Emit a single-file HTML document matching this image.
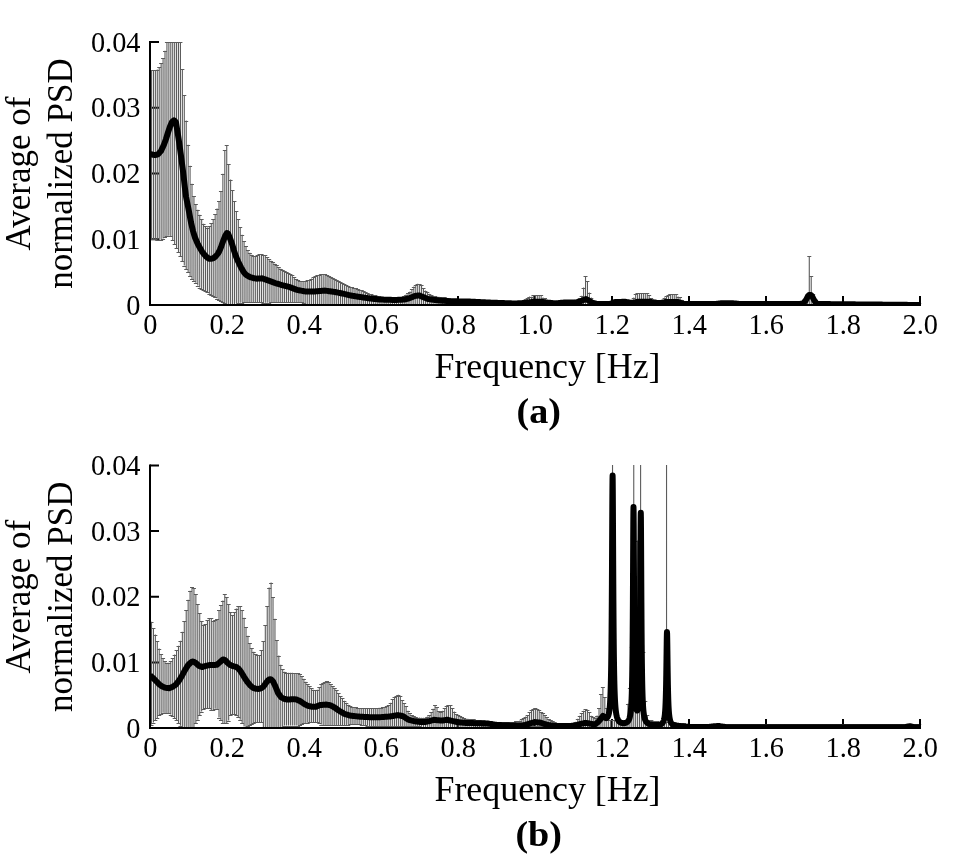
<!DOCTYPE html>
<html><head><meta charset="utf-8"><style>
html,body{margin:0;padding:0;background:#fff;width:969px;height:857px;overflow:hidden}
svg{display:block}
svg{will-change:transform}
.t{font-family:"Liberation Serif",serif;font-size:30.5px;fill:#000}
.ti{font-family:"Liberation Serif",serif;font-size:35px;fill:#000}
.tb{font-family:"Liberation Serif",serif;font-size:35px;font-weight:bold;fill:#000}
</style></head><body>
<svg width="969" height="857" viewBox="0 0 969 857">
<rect width="969" height="857" fill="#fff"/>
<path d="M150.0 239.2h9 M150.0 173.5h9 M150.0 107.8h9 M150.0 42.0h9 M458.0 305.0v-9 M535.0 305.0v-9 M612.0 305.0v-9 M689.0 305.0v-9 M766.0 305.0v-9 M843.0 305.0v-9 M920.0 305.0v-9" stroke="#000" stroke-width="2" fill="none"/>
<path d="M151.499 70.1V239.3M153.428 70.3V239.3M155.357 70.5V239.4M157.286 69.5V239.6M159.215 67.2V240.2M161.144 63.4V239.7M163.073 58.0V238.6M165.002 50.7V237.4M166.931 42.0V236.2M168.86 42.0V235.7M170.789 42.0V236.2M172.718 42.0V240.0M174.647 42.0V244.0M176.576 42.0V248.2M178.505 42.0V252.4M180.434 42.0V256.2M182.363 69.4V260.9M184.292 95.4V265.6M186.221 120.6V269.3M188.15 144.7V272.3M190.079 165.7V276.0M192.008 183.7V278.9M193.937 196.4V281.2M195.866 204.3V282.8M197.795 209.8V285.5M199.724 214.7V287.5M201.653 219.5V288.9M203.582 223.7V290.1M205.511 226.0V291.3M207.44 227.6V292.5M209.369 226.3V293.8M211.298 223.0V295.3M213.227 219.2V296.4M215.156 214.4V297.3M217.085 208.5V298.5M219.014 201.4V300.0M220.943 190.9V301.2M222.872 173.7V302.1M224.801 150.4V303.2M226.73 145.2V304.3M228.659 164.0V304.9M230.588 179.5V304.5M232.517 190.3V304.2M234.446 201.1V303.9M236.375 210.9V303.5M238.304 219.0V303.2M240.233 227.4V302.8M242.162 234.8V302.5M244.091 241.1V302.2M246.02 246.3V302.0M247.949 250.2V302.0M249.878 252.8V302.0M251.807 254.7V302.0M253.736 256.2V302.0M255.665 255.9V302.0M257.594 254.9V302.0M259.523 254.5V302.0M261.452 254.2V302.5M263.381 254.7V303.0M265.31 255.4V302.8M267.239 257.0V302.7M269.168 259.0V302.6M271.097 260.7V302.4M273.026 262.3V302.2M274.955 263.8V302.0M276.884 265.4V302.0M278.813 267.2V302.0M280.742 268.7V302.0M282.671 269.7V302.0M284.6 270.7V302.0M286.529 271.7V302.0M288.458 272.8V302.0M290.387 274.1V302.0M292.316 275.4V302.0M294.245 277.2V302.0M296.174 278.9V302.0M298.103 279.9V302.0M300.032 280.9V302.0M301.961 281.0V302.0M303.89 281.1V302.9M305.819 280.8V304.8M307.748 280.4V305.0M309.677 279.5V305.0M311.606 278.5V305.0M313.535 277.3V305.0M315.464 276.0V305.0M317.393 275.2V305.0M319.322 274.6V305.0M321.251 274.4V305.0M323.18 274.4V305.0M325.109 274.4V305.0M327.038 275.1V305.0M328.967 275.7V305.0M330.896 276.7V305.0M332.825 277.7V305.0M334.754 278.7V305.0M336.683 279.7V305.0M338.612 280.7V305.0M340.541 281.8V305.0M342.47 283.0V305.0M344.399 284.2V305.0M346.328 285.1V305.0M348.257 285.9V305.0M350.186 286.7V305.0M352.115 287.3V305.0M354.044 287.9V305.0M355.973 288.5V305.0M357.902 289.1V305.0M359.831 289.6V305.0M361.76 290.4V305.0M363.689 291.2V305.0M365.618 292.1V305.0M367.547 292.9V305.0M369.476 293.7V305.0M371.405 294.3V305.0M373.334 294.9V305.0M375.263 295.5V305.0M377.192 295.8V305.0M379.121 296.2V305.0M381.05 296.5V305.0M382.979 296.7V305.0M384.908 296.9V305.0M386.837 297.2V305.0M388.766 297.4V305.0M390.695 297.5V305.0M392.624 297.4V305.0M394.553 297.4V305.0M396.482 297.4V305.0M398.411 297.3V305.0M400.34 297.2V305.0M402.269 296.5V305.0M404.198 295.8V305.0M406.127 294.5V305.0M408.056 293.3V305.0M409.985 291.6V305.0M411.914 289.4V305.0M413.843 286.6V305.0M415.772 284.7V305.0M417.701 283.7V305.0M419.63 284.1V305.0M421.559 285.5V305.0M423.488 288.3V305.0M425.417 290.6V305.0M427.346 292.2V305.0M429.275 293.7V305.0M431.204 295.0V305.0M433.133 295.5V305.0M435.062 296.1V305.0M436.991 296.5V305.0M438.92 296.8V305.0M440.849 297.0V305.0M442.778 297.2V305.0M444.707 297.5V305.0M446.636 297.8V305.0M448.565 298.2V305.0M450.494 298.6V305.0M452.423 299.0V305.0M454.352 299.4V305.0M456.281 299.7V305.0M458.21 300.0V305.0M460.139 300.3V305.0M462.068 300.6V305.0M463.997 300.8V305.0M465.926 301.0V305.0M467.855 301.1V305.0M469.784 301.1V305.0M471.713 301.1V305.0M473.642 301.2V305.0M475.571 301.2V305.0M477.5 301.2V305.0M479.429 301.3V305.0M481.358 301.3V305.0M483.287 301.3V305.0M485.216 301.4V305.0M487.145 301.4V305.0M489.074 301.4V305.0M491.003 301.5V305.0M492.932 301.5V305.0M494.861 301.5V305.0M496.79 301.6V305.0M498.719 301.6V305.0M500.648 301.6V305.0M502.577 301.7V305.0M504.506 301.7V305.0M506.435 301.8V305.0M508.364 301.8V305.0M510.293 301.8V305.0M512.222 301.9V305.0M514.151 301.9V305.0M516.08 301.9V305.0M518.009 302.0V305.0M519.938 302.0V305.0M521.867 301.1V305.0M523.796 300.1V305.0M525.725 299.1V305.0M527.654 297.6V305.0M529.583 296.6V305.0M531.512 296.7V305.0M533.441 295.4V305.0M535.37 295.0V305.0M537.299 295.0V305.0M539.228 295.0V305.0M541.157 295.2V305.0M543.086 297.5V305.0M545.015 298.0V305.0M546.944 300.6V305.0M548.873 302.0V305.0M550.802 302.0V305.0M552.731 302.0V305.0M554.66 302.0V305.0M556.589 302.0V305.0M558.518 302.0V305.0M560.447 302.0V305.0M562.376 302.0V305.0M564.305 302.0V305.0M566.234 302.0V305.0M568.163 302.0V305.0M570.092 302.0V305.0M572.021 302.0V305.0M573.95 302.0V305.0M575.879 302.0V305.0M577.808 302.0V305.0M579.737 298.1V305.0M581.666 295.8V305.0M583.595 287.5V305.0M585.524 276.5V305.0M587.453 281.0V305.0M589.382 292.6V305.0M591.311 297.6V305.0M593.24 300.8V305.0M595.169 302.0V305.0M597.098 302.0V305.0M599.027 302.0V305.0M600.956 302.0V305.0M602.885 302.0V305.0M604.814 302.0V305.0M606.743 302.0V305.0M608.672 302.0V305.0M610.601 302.0V305.0M612.53 302.0V305.0M614.459 302.0V305.0M616.388 302.0V305.0M618.317 302.0V305.0M620.246 302.0V305.0M622.175 302.0V305.0M624.104 302.0V305.0M626.033 302.0V305.0M627.962 302.0V305.0M629.891 302.0V305.0M631.82 302.0V305.0M633.749 297.6V305.0M635.678 293.8V305.0M637.607 293.2V305.0M639.536 293.2V305.0M641.465 293.2V305.0M643.394 293.2V305.0M645.323 293.2V305.0M647.252 293.2V305.0M649.181 295.4V305.0M651.11 298.1V305.0M653.039 300.6V305.0M654.968 302.0V305.0M656.897 302.0V305.0M658.826 302.0V305.0M660.755 302.0V305.0M662.684 300.6V305.0M664.613 297.5V305.0M666.542 296.1V305.0M668.471 294.6V305.0M670.4 294.2V305.0M672.329 294.2V305.0M674.258 294.2V305.0M676.187 294.4V305.0M678.116 296.5V305.0M680.045 297.2V305.0M681.974 299.7V305.0M683.903 302.0V305.0M685.832 302.0V305.0M687.761 302.0V305.0M689.69 302.0V305.0M691.619 302.0V305.0M693.548 302.0V305.0M695.477 302.0V305.0M697.406 302.0V305.0M699.335 302.0V305.0M701.264 302.0V305.0M703.193 302.0V305.0M705.122 302.0V305.0M707.051 302.0V305.0M708.98 302.0V305.0M710.909 302.0V305.0M712.838 302.0V305.0M714.767 302.0V305.0M716.696 302.0V305.0M718.625 302.0V305.0M720.554 302.0V305.0M722.483 302.0V305.0M724.412 302.0V305.0M726.341 302.0V305.0M728.27 302.0V305.0M730.199 302.0V305.0M732.128 302.0V305.0M734.057 302.0V305.0M735.986 302.0V305.0M737.915 302.0V305.0M739.844 302.0V305.0M741.773 302.0V305.0M743.702 302.0V305.0M745.631 302.0V305.0M747.56 302.0V305.0M749.489 302.0V305.0M751.418 302.0V305.0M753.347 302.0V305.0M755.276 302.0V305.0M757.205 302.0V305.0M759.134 302.0V305.0M761.063 302.0V305.0M762.992 302.0V305.0M764.921 302.0V305.0M766.85 302.0V305.0M768.779 302.0V305.0M770.708 302.0V305.0M772.637 302.0V305.0M774.566 302.0V305.0M776.495 302.0V305.0M778.424 302.0V305.0M780.353 302.0V305.0M782.282 302.0V305.0M784.211 302.0V305.0M786.14 302.0V305.0M788.069 302.0V305.0M789.998 302.0V305.0M791.927 302.0V305.0M793.856 302.0V305.0M795.785 302.0V305.0M797.714 302.0V305.0M799.643 302.0V305.0M801.572 302.0V305.0M803.501 302.0V305.0M805.43 302.0V305.0M807.359 296.6V305.0M809.288 256.2V305.0M811.217 275.9V305.0M813.146 293.7V305.0M815.075 302.0V305.0M817.004 302.0V305.0M818.933 302.0V305.0M820.862 302.1V305.0M822.791 302.1V305.0M824.72 302.1V305.0M826.649 302.1V305.0M828.578 302.1V305.0M830.507 302.1V305.0M832.436 302.2V305.0M834.365 302.2V305.0M836.294 302.2V305.0M838.223 302.2V305.0M840.152 302.2V305.0M842.081 302.3V305.0M844.01 302.3V305.0M845.939 302.3V305.0M847.868 302.3V305.0M849.797 302.3V305.0M851.726 302.3V305.0M853.655 302.4V305.0M855.584 302.4V305.0M857.513 302.4V305.0M859.442 302.4V305.0M861.371 302.4V305.0M863.3 302.5V305.0M865.229 302.5V305.0M867.158 302.5V305.0M869.087 302.5V305.0M871.016 302.5V305.0M872.945 302.5V305.0M874.874 302.6V305.0M876.803 302.6V305.0M878.732 302.6V305.0M880.661 302.6V305.0M882.59 302.6V305.0M884.519 302.7V305.0M886.448 302.7V305.0M888.377 302.7V305.0M890.306 302.7V305.0M892.235 302.7V305.0M894.164 302.7V305.0M896.093 302.8V305.0M898.022 302.8V305.0M899.951 302.8V305.0M901.88 302.8V305.0M903.809 302.8V305.0M905.738 302.9V305.0M907.667 302.9V305.0M909.596 302.9V305.0M911.525 302.9V305.0M913.454 302.9V305.0M915.383 302.9V305.0M917.312 303.0V305.0M919.241 303.0V305.0" stroke="#5c5c5c" stroke-width="1.1" fill="none"/>
<path d="M149.50 70.5h4.0M149.50 239.5h4.0M151.43 70.5h4.0M151.43 239.5h4.0M153.36 70.5h4.0M153.36 239.5h4.0M155.29 70.5h4.0M155.29 240.5h4.0M157.22 67.5h4.0M157.22 240.5h4.0M159.14 63.5h4.0M159.14 240.5h4.0M161.07 58.5h4.0M161.07 239.5h4.0M163.00 51.5h4.0M163.00 237.5h4.0M164.93 42.5h4.0M164.93 236.5h4.0M166.86 42.5h4.0M166.86 236.5h4.0M168.79 42.5h4.0M168.79 236.5h4.0M170.72 42.5h4.0M170.72 240.5h4.0M172.65 42.5h4.0M172.65 244.5h4.0M174.58 42.5h4.0M174.58 248.5h4.0M176.50 42.5h4.0M176.50 252.5h4.0M178.43 42.5h4.0M178.43 256.5h4.0M180.36 69.5h4.0M180.36 261.5h4.0M182.29 95.5h4.0M182.29 266.5h4.0M184.22 121.5h4.0M184.22 269.5h4.0M186.15 145.5h4.0M186.15 272.5h4.0M188.08 166.5h4.0M188.08 276.5h4.0M190.01 184.5h4.0M190.01 279.5h4.0M191.94 196.5h4.0M191.94 281.5h4.0M193.87 204.5h4.0M193.87 283.5h4.0M195.79 210.5h4.0M195.79 286.5h4.0M197.72 215.5h4.0M197.72 288.5h4.0M199.65 219.5h4.0M199.65 289.5h4.0M201.58 224.5h4.0M201.58 290.5h4.0M203.51 226.5h4.0M203.51 291.5h4.0M205.44 228.5h4.0M205.44 292.5h4.0M207.37 226.5h4.0M207.37 294.5h4.0M209.30 223.5h4.0M209.30 295.5h4.0M211.23 219.5h4.0M211.23 296.5h4.0M213.16 214.5h4.0M213.16 297.5h4.0M215.09 209.5h4.0M215.09 299.5h4.0M217.01 201.5h4.0M217.01 300.5h4.0M218.94 191.5h4.0M218.94 301.5h4.0M220.87 174.5h4.0M220.87 302.5h4.0M222.80 150.5h4.0M222.80 303.5h4.0M224.73 145.5h4.0M226.66 164.5h4.0M228.59 180.5h4.0M230.52 190.5h4.0M232.45 201.5h4.0M232.45 304.5h4.0M234.38 211.5h4.0M234.38 304.5h4.0M236.30 219.5h4.0M236.30 303.5h4.0M238.23 227.5h4.0M238.23 303.5h4.0M240.16 235.5h4.0M240.16 303.5h4.0M242.09 241.5h4.0M242.09 302.5h4.0M244.02 246.5h4.0M244.02 302.5h4.0M245.95 250.5h4.0M245.95 302.5h4.0M247.88 253.5h4.0M247.88 302.5h4.0M249.81 255.5h4.0M249.81 302.5h4.0M251.74 256.5h4.0M251.74 302.5h4.0M253.66 256.5h4.0M253.66 302.5h4.0M255.59 255.5h4.0M255.59 302.5h4.0M257.52 254.5h4.0M257.52 302.5h4.0M259.45 254.5h4.0M259.45 302.5h4.0M261.38 255.5h4.0M261.38 303.5h4.0M263.31 255.5h4.0M263.31 303.5h4.0M265.24 257.5h4.0M265.24 303.5h4.0M267.17 259.5h4.0M267.17 303.5h4.0M269.10 261.5h4.0M269.10 302.5h4.0M271.03 262.5h4.0M271.03 302.5h4.0M272.95 264.5h4.0M272.95 302.5h4.0M274.88 265.5h4.0M274.88 302.5h4.0M276.81 267.5h4.0M276.81 302.5h4.0M278.74 269.5h4.0M278.74 302.5h4.0M280.67 270.5h4.0M280.67 302.5h4.0M282.60 271.5h4.0M282.60 302.5h4.0M284.53 272.5h4.0M284.53 302.5h4.0M286.46 273.5h4.0M286.46 302.5h4.0M288.39 274.5h4.0M288.39 302.5h4.0M290.32 275.5h4.0M290.32 302.5h4.0M292.25 277.5h4.0M292.25 302.5h4.0M294.17 279.5h4.0M294.17 302.5h4.0M296.10 280.5h4.0M296.10 302.5h4.0M298.03 281.5h4.0M298.03 302.5h4.0M299.96 281.5h4.0M299.96 302.5h4.0M301.89 281.5h4.0M301.89 303.5h4.0M303.82 281.5h4.0M305.75 280.5h4.0M307.68 280.5h4.0M309.61 279.5h4.0M311.54 277.5h4.0M313.46 276.5h4.0M315.39 275.5h4.0M317.32 275.5h4.0M319.25 274.5h4.0M321.18 274.5h4.0M323.11 274.5h4.0M325.04 275.5h4.0M326.97 276.5h4.0M328.90 277.5h4.0M330.82 278.5h4.0M332.75 279.5h4.0M334.68 280.5h4.0M336.61 281.5h4.0M338.54 282.5h4.0M340.47 283.5h4.0M342.40 284.5h4.0M344.33 285.5h4.0M346.26 286.5h4.0M348.19 287.5h4.0M350.12 287.5h4.0M352.04 288.5h4.0M353.97 288.5h4.0M355.90 289.5h4.0M357.83 290.5h4.0M359.76 290.5h4.0M361.69 291.5h4.0M363.62 292.5h4.0M365.55 293.5h4.0M367.48 294.5h4.0M369.40 294.5h4.0M371.33 295.5h4.0M373.26 295.5h4.0M375.19 296.5h4.0M377.12 296.5h4.0M379.05 297.5h4.0M380.98 297.5h4.0M382.91 297.5h4.0M384.84 297.5h4.0M386.77 297.5h4.0M388.69 297.5h4.0M390.62 297.5h4.0M392.55 297.5h4.0M394.48 297.5h4.0M396.41 297.5h4.0M398.34 297.5h4.0M400.27 297.5h4.0M402.20 296.5h4.0M404.13 295.5h4.0M406.06 293.5h4.0M407.99 292.5h4.0M409.91 289.5h4.0M411.84 287.5h4.0M413.77 285.5h4.0M415.70 284.5h4.0M417.63 284.5h4.0M419.56 285.5h4.0M421.49 288.5h4.0M423.42 291.5h4.0M425.35 292.5h4.0M427.27 294.5h4.0M429.20 295.5h4.0M431.13 296.5h4.0M433.06 296.5h4.0M434.99 297.5h4.0M436.92 297.5h4.0M438.85 297.5h4.0M440.78 297.5h4.0M442.71 297.5h4.0M444.64 298.5h4.0M446.56 298.5h4.0M448.49 299.5h4.0M450.42 299.5h4.0M452.35 299.5h4.0M454.28 300.5h4.0M456.21 300.5h4.0M458.14 300.5h4.0M460.07 301.5h4.0M462.00 301.5h4.0M463.93 301.5h4.0M465.86 301.5h4.0M467.78 301.5h4.0M469.71 301.5h4.0M471.64 301.5h4.0M473.57 301.5h4.0M475.50 301.5h4.0M477.43 301.5h4.0M479.36 301.5h4.0M481.29 301.5h4.0M483.22 301.5h4.0M485.14 301.5h4.0M487.07 301.5h4.0M489.00 301.5h4.0M490.93 302.5h4.0M492.86 302.5h4.0M494.79 302.5h4.0M496.72 302.5h4.0M498.65 302.5h4.0M500.58 302.5h4.0M502.51 302.5h4.0M504.44 302.5h4.0M506.36 302.5h4.0M508.29 302.5h4.0M510.22 302.5h4.0M512.15 302.5h4.0M514.08 302.5h4.0M516.01 302.5h4.0M517.94 302.5h4.0M519.87 301.5h4.0M521.80 300.5h4.0M523.73 299.5h4.0M525.65 298.5h4.0M527.58 297.5h4.0M529.51 297.5h4.0M531.44 295.5h4.0M533.37 295.5h4.0M535.30 295.5h4.0M537.23 295.5h4.0M539.16 295.5h4.0M541.09 298.5h4.0M543.01 298.5h4.0M544.94 301.5h4.0M546.87 302.5h4.0M548.80 302.5h4.0M550.73 302.5h4.0M552.66 302.5h4.0M554.59 302.5h4.0M556.52 302.5h4.0M558.45 302.5h4.0M560.38 302.5h4.0M562.30 302.5h4.0M564.23 302.5h4.0M566.16 302.5h4.0M568.09 302.5h4.0M570.02 302.5h4.0M571.95 302.5h4.0M573.88 302.5h4.0M575.81 302.5h4.0M577.74 298.5h4.0M579.67 296.5h4.0M581.60 288.5h4.0M583.52 276.5h4.0M585.45 281.5h4.0M587.38 293.5h4.0M589.31 298.5h4.0M591.24 301.5h4.0M593.17 302.5h4.0M595.10 302.5h4.0M597.03 302.5h4.0M598.96 302.5h4.0M600.88 302.5h4.0M602.81 302.5h4.0M604.74 302.5h4.0M606.67 302.5h4.0M608.60 302.5h4.0M610.53 302.5h4.0M612.46 302.5h4.0M614.39 302.5h4.0M616.32 302.5h4.0M618.25 302.5h4.0M620.17 302.5h4.0M622.10 302.5h4.0M624.03 302.5h4.0M625.96 302.5h4.0M627.89 302.5h4.0M629.82 302.5h4.0M631.75 298.5h4.0M633.68 294.5h4.0M635.61 293.5h4.0M637.54 293.5h4.0M639.47 293.5h4.0M641.39 293.5h4.0M643.32 293.5h4.0M645.25 293.5h4.0M647.18 295.5h4.0M649.11 298.5h4.0M651.04 301.5h4.0M652.97 302.5h4.0M654.90 302.5h4.0M656.83 302.5h4.0M658.75 302.5h4.0M660.68 301.5h4.0M662.61 298.5h4.0M664.54 296.5h4.0M666.47 295.5h4.0M668.40 294.5h4.0M670.33 294.5h4.0M672.26 294.5h4.0M674.19 294.5h4.0M676.12 297.5h4.0M678.04 297.5h4.0M679.97 300.5h4.0M681.90 302.5h4.0M683.83 302.5h4.0M685.76 302.5h4.0M687.69 302.5h4.0M689.62 302.5h4.0M691.55 302.5h4.0M693.48 302.5h4.0M695.41 302.5h4.0M697.34 302.5h4.0M699.26 302.5h4.0M701.19 302.5h4.0M703.12 302.5h4.0M705.05 302.5h4.0M706.98 302.5h4.0M708.91 302.5h4.0M710.84 302.5h4.0M712.77 302.5h4.0M714.70 302.5h4.0M716.62 302.5h4.0M718.55 302.5h4.0M720.48 302.5h4.0M722.41 302.5h4.0M724.34 302.5h4.0M726.27 302.5h4.0M728.20 302.5h4.0M730.13 302.5h4.0M732.06 302.5h4.0M733.99 302.5h4.0M735.91 302.5h4.0M737.84 302.5h4.0M739.77 302.5h4.0M741.70 302.5h4.0M743.63 302.5h4.0M745.56 302.5h4.0M747.49 302.5h4.0M749.42 302.5h4.0M751.35 302.5h4.0M753.28 302.5h4.0M755.21 302.5h4.0M757.13 302.5h4.0M759.06 302.5h4.0M760.99 302.5h4.0M762.92 302.5h4.0M764.85 302.5h4.0M766.78 302.5h4.0M768.71 302.5h4.0M770.64 302.5h4.0M772.57 302.5h4.0M774.50 302.5h4.0M776.42 302.5h4.0M778.35 302.5h4.0M780.28 302.5h4.0M782.21 302.5h4.0M784.14 302.5h4.0M786.07 302.5h4.0M788.00 302.5h4.0M789.93 302.5h4.0M791.86 302.5h4.0M793.78 302.5h4.0M795.71 302.5h4.0M797.64 302.5h4.0M799.57 302.5h4.0M801.50 302.5h4.0M803.43 302.5h4.0M805.36 297.5h4.0M807.29 256.5h4.0M809.22 276.5h4.0M811.15 294.5h4.0M813.08 302.5h4.0M815.00 302.5h4.0M816.93 302.5h4.0M818.86 302.5h4.0M820.79 302.5h4.0M822.72 302.5h4.0M824.65 302.5h4.0M826.58 302.5h4.0M828.51 302.5h4.0M830.44 302.5h4.0M832.37 302.5h4.0M834.29 302.5h4.0M836.22 302.5h4.0M838.15 302.5h4.0M840.08 302.5h4.0M842.01 302.5h4.0M843.94 302.5h4.0M845.87 302.5h4.0M847.80 302.5h4.0M849.73 302.5h4.0M851.65 302.5h4.0M853.58 302.5h4.0M855.51 302.5h4.0M857.44 302.5h4.0M859.37 302.5h4.0M861.30 302.5h4.0M863.23 302.5h4.0M865.16 302.5h4.0M867.09 303.5h4.0M869.02 303.5h4.0M870.95 303.5h4.0M872.87 303.5h4.0M874.80 303.5h4.0M876.73 303.5h4.0M878.66 303.5h4.0M880.59 303.5h4.0M882.52 303.5h4.0M884.45 303.5h4.0M886.38 303.5h4.0M888.31 303.5h4.0M890.24 303.5h4.0M892.16 303.5h4.0M894.09 303.5h4.0M896.02 303.5h4.0M897.95 303.5h4.0M899.88 303.5h4.0M901.81 303.5h4.0M903.74 303.5h4.0M905.67 303.5h4.0M907.60 303.5h4.0M909.52 303.5h4.0M911.45 303.5h4.0M913.38 303.5h4.0M915.31 303.5h4.0M917.24 303.5h4.0" stroke="#5c5c5c" stroke-width="1" fill="none"/>
<clipPath id="ca"><rect x="150.0" y="32.0" width="771.0" height="274.0"/></clipPath>
<path d="M150.00 154.10 L151.00 154.30 L152.00 154.50 L153.00 154.70 L154.00 154.90 L155.00 155.10 L156.00 154.83 L157.00 154.57 L158.00 154.30 L159.00 153.20 L160.00 152.10 L161.00 151.00 L162.00 148.83 L163.00 146.67 L164.00 144.50 L165.00 141.75 L166.00 139.00 L167.00 135.75 L168.00 132.50 L169.00 129.50 L170.00 126.50 L171.00 124.25 L172.00 122.00 L173.00 121.13 L174.00 120.26 L175.00 121.07 L176.00 122.60 L177.00 128.67 L178.00 134.97 L179.00 141.53 L180.00 148.53 L181.00 155.97 L182.00 163.52 L183.00 171.18 L184.00 179.55 L185.00 188.64 L186.00 196.50 L187.00 201.50 L188.00 206.50 L189.00 211.69 L190.00 217.08 L191.00 222.46 L192.00 226.79 L193.00 231.00 L194.00 234.33 L195.00 237.48 L196.00 239.89 L197.00 242.30 L198.00 244.41 L199.00 246.23 L200.00 248.02 L201.00 249.76 L202.00 251.50 L203.00 252.80 L204.00 254.11 L205.00 255.30 L206.00 256.43 L207.00 257.34 L208.00 258.02 L209.00 258.70 L210.00 258.74 L211.00 258.78 L212.00 258.62 L213.00 258.25 L214.00 257.74 L215.00 256.87 L216.00 256.00 L217.00 254.75 L218.00 253.50 L219.00 251.70 L220.00 249.52 L221.00 247.14 L222.00 244.27 L223.00 241.40 L224.00 238.83 L225.00 236.27 L226.00 234.48 L227.00 233.03 L228.00 233.48 L229.00 235.82 L230.00 238.38 L231.00 241.14 L232.00 243.90 L233.00 247.12 L234.00 250.65 L235.00 253.61 L236.00 256.50 L237.00 258.88 L238.00 261.26 L239.00 263.30 L240.00 265.30 L241.00 267.30 L242.00 269.17 L243.00 270.83 L244.00 272.50 L245.00 273.65 L246.00 274.80 L247.00 275.40 L248.00 276.00 L249.00 276.60 L250.00 277.06 L251.00 277.37 L252.00 277.69 L253.00 278.00 L254.00 278.20 L255.00 278.40 L256.00 278.60 L257.00 278.66 L258.00 278.59 L259.00 278.52 L260.00 278.45 L261.00 278.37 L262.00 278.30 L263.00 278.65 L264.00 279.00 L265.00 279.35 L266.00 279.70 L267.00 280.05 L268.00 280.40 L269.00 280.77 L270.00 281.14 L271.00 281.51 L272.00 281.89 L273.00 282.26 L274.00 282.63 L275.00 283.00 L276.00 283.30 L277.00 283.60 L278.00 283.90 L279.00 284.20 L280.00 284.50 L281.00 284.80 L282.00 285.10 L283.00 285.36 L284.00 285.62 L285.00 285.89 L286.00 286.15 L287.00 286.41 L288.00 286.68 L289.00 286.94 L290.00 287.20 L291.00 287.59 L292.00 287.97 L293.00 288.36 L294.00 288.74 L295.00 289.13 L296.00 289.51 L297.00 289.90 L298.00 290.09 L299.00 290.27 L300.00 290.46 L301.00 290.65 L302.00 290.84 L303.00 291.02 L304.00 291.21 L305.00 291.40 L306.00 291.40 L307.00 291.40 L308.00 291.40 L309.00 291.40 L310.00 291.40 L311.00 291.40 L312.00 291.40 L313.00 291.40 L314.00 291.40 L315.00 291.40 L316.00 291.32 L317.00 291.24 L318.00 291.16 L319.00 291.08 L320.00 291.00 L321.00 290.92 L322.00 290.84 L323.00 290.76 L324.00 290.68 L325.00 290.60 L326.00 290.74 L327.00 290.88 L328.00 291.02 L329.00 291.16 L330.00 291.30 L331.00 291.44 L332.00 291.58 L333.00 291.72 L334.00 291.86 L335.00 292.00 L336.00 292.21 L337.00 292.42 L338.00 292.63 L339.00 292.84 L340.00 293.05 L341.00 293.26 L342.00 293.47 L343.00 293.68 L344.00 293.89 L345.00 294.10 L346.00 294.36 L347.00 294.62 L348.00 294.88 L349.00 295.14 L350.00 295.40 L351.00 295.56 L352.00 295.72 L353.00 295.88 L354.00 296.04 L355.00 296.20 L356.00 296.36 L357.00 296.52 L358.00 296.68 L359.00 296.84 L360.00 297.00 L361.00 297.15 L362.00 297.30 L363.00 297.45 L364.00 297.60 L365.00 297.75 L366.00 297.90 L367.00 298.05 L368.00 298.20 L369.00 298.35 L370.00 298.50 L371.00 298.60 L372.00 298.70 L373.00 298.80 L374.00 298.90 L375.00 299.00 L376.00 299.10 L377.00 299.20 L378.00 299.30 L379.00 299.40 L380.00 299.50 L381.00 299.53 L382.00 299.57 L383.00 299.60 L384.00 299.63 L385.00 299.67 L386.00 299.70 L387.00 299.73 L388.00 299.77 L389.00 299.80 L390.00 299.83 L391.00 299.87 L392.00 299.90 L393.00 299.93 L394.00 299.97 L395.00 300.00 L396.00 299.95 L397.00 299.90 L398.00 299.85 L399.00 299.80 L400.00 299.75 L401.00 299.70 L402.00 299.65 L403.00 299.60 L404.00 299.55 L405.00 299.50 L406.00 299.20 L407.00 298.90 L408.00 298.60 L409.00 298.30 L410.00 298.00 L411.00 297.58 L412.00 297.16 L413.00 296.74 L414.00 296.32 L415.00 295.90 L416.00 295.77 L417.00 295.65 L418.00 295.52 L419.00 295.40 L420.00 295.80 L421.00 296.20 L422.00 296.60 L423.00 297.00 L424.00 297.40 L425.00 297.80 L426.00 298.20 L427.00 298.60 L428.00 299.00 L429.00 299.14 L430.00 299.29 L431.00 299.43 L432.00 299.57 L433.00 299.71 L434.00 299.86 L435.00 300.00 L436.00 300.10 L437.00 300.20 L438.00 300.30 L439.00 300.40 L440.00 300.50 L441.00 300.57 L442.00 300.64 L443.00 300.71 L444.00 300.78 L445.00 300.85 L446.00 300.92 L447.00 300.99 L448.00 301.06 L449.00 301.13 L450.00 301.20 L451.00 301.22 L452.00 301.24 L453.00 301.26 L454.00 301.28 L455.00 301.30 L456.00 301.32 L457.00 301.34 L458.00 301.36 L459.00 301.38 L460.00 301.40 L461.00 301.42 L462.00 301.44 L463.00 301.46 L464.00 301.48 L465.00 301.50 L466.00 301.52 L467.00 301.54 L468.00 301.56 L469.00 301.58 L470.00 301.60 L471.00 301.65 L472.00 301.70 L473.00 301.75 L474.00 301.80 L475.00 301.85 L476.00 301.90 L477.00 301.95 L478.00 302.00 L479.00 302.05 L480.00 302.10 L481.00 302.15 L482.00 302.20 L483.00 302.25 L484.00 302.30 L485.00 302.35 L486.00 302.40 L487.00 302.45 L488.00 302.50 L489.00 302.55 L490.00 302.60 L491.00 302.64 L492.00 302.67 L493.00 302.71 L494.00 302.74 L495.00 302.78 L496.00 302.82 L497.00 302.85 L498.00 302.89 L499.00 302.92 L500.00 302.96 L501.00 303.00 L502.00 303.03 L503.00 303.07 L504.00 303.10 L505.00 303.14 L506.00 303.18 L507.00 303.21 L508.00 303.25 L509.00 303.28 L510.00 303.32 L511.00 303.36 L512.00 303.39 L513.00 303.43 L514.00 303.46 L515.00 303.50 L516.00 303.45 L517.00 303.40 L518.00 303.35 L519.00 303.30 L520.00 303.25 L521.00 303.20 L522.00 303.15 L523.00 303.10 L524.00 303.05 L525.00 303.00 L526.00 302.85 L527.00 302.70 L528.00 302.55 L529.00 302.40 L530.00 302.25 L531.00 302.10 L532.00 301.95 L533.00 301.80 L534.00 301.79 L535.00 301.77 L536.00 301.76 L537.00 301.74 L538.00 301.73 L539.00 301.71 L540.00 301.70 L541.00 301.81 L542.00 301.93 L543.00 302.04 L544.00 302.16 L545.00 302.27 L546.00 302.39 L547.00 302.50 L548.00 302.61 L549.00 302.73 L550.00 302.84 L551.00 302.95 L552.00 303.06 L553.00 303.17 L554.00 303.29 L555.00 303.40 L556.00 303.31 L557.00 303.22 L558.00 303.13 L559.00 303.04 L560.00 302.95 L561.00 302.86 L562.00 302.77 L563.00 302.68 L564.00 302.59 L565.00 302.50 L566.00 302.51 L567.00 302.52 L568.00 302.53 L569.00 302.54 L570.00 302.55 L571.00 302.56 L572.00 302.57 L573.00 302.58 L574.00 302.59 L575.00 302.60 L576.00 302.38 L577.00 302.16 L578.00 301.94 L579.00 301.72 L580.00 301.50 L581.00 301.08 L582.00 300.67 L583.00 300.25 L584.00 299.83 L585.00 299.42 L586.00 299.00 L587.00 299.58 L588.00 300.17 L589.00 300.75 L590.00 301.33 L591.00 301.92 L592.00 302.50 L593.00 302.80 L594.00 303.10 L595.00 303.40 L596.00 303.70 L597.00 304.00 L598.00 304.00 L599.00 304.00 L600.00 304.00 L601.00 304.00 L602.00 304.00 L603.00 304.00 L604.00 304.00 L605.00 304.00 L606.00 304.00 L607.00 304.00 L608.00 304.00 L609.00 304.00 L610.00 304.00 L611.00 303.60 L612.00 303.20 L613.00 302.80 L614.00 302.40 L615.00 302.00 L616.00 301.98 L617.00 301.96 L618.00 301.94 L619.00 301.92 L620.00 301.90 L621.00 301.88 L622.00 301.86 L623.00 301.84 L624.00 301.82 L625.00 301.80 L626.00 301.97 L627.00 302.14 L628.00 302.31 L629.00 302.49 L630.00 302.66 L631.00 302.83 L632.00 303.00 L633.00 302.80 L634.00 302.60 L635.00 302.40 L636.00 302.20 L637.00 302.00 L638.00 301.80 L639.00 301.80 L640.00 301.80 L641.00 301.80 L642.00 301.80 L643.00 301.80 L644.00 301.80 L645.00 301.80 L646.00 301.80 L647.00 301.80 L648.00 301.80 L649.00 301.80 L650.00 301.80 L651.00 301.96 L652.00 302.11 L653.00 302.27 L654.00 302.42 L655.00 302.58 L656.00 302.73 L657.00 302.89 L658.00 303.04 L659.00 303.20 L660.00 303.03 L661.00 302.86 L662.00 302.69 L663.00 302.51 L664.00 302.34 L665.00 302.17 L666.00 302.00 L667.00 302.00 L668.00 302.00 L669.00 302.00 L670.00 302.00 L671.00 302.00 L672.00 302.00 L673.00 302.00 L674.00 302.00 L675.00 302.00 L676.00 302.00 L677.00 302.00 L678.00 302.00 L679.00 302.33 L680.00 302.67 L681.00 303.00 L682.00 303.33 L683.00 303.67 L684.00 304.00 L685.00 304.00 L686.00 304.00 L687.00 304.00 L688.00 304.00 L689.00 304.00 L690.00 304.00 L691.00 304.00 L692.00 304.00 L693.00 304.00 L694.00 304.00 L695.00 304.00 L696.00 304.00 L697.00 304.00 L698.00 304.00 L699.00 304.00 L700.00 304.00 L701.00 304.00 L702.00 304.00 L703.00 304.00 L704.00 304.00 L705.00 304.00 L706.00 304.00 L707.00 304.00 L708.00 304.00 L709.00 304.00 L710.00 304.00 L711.00 304.00 L712.00 304.00 L713.00 304.00 L714.00 304.00 L715.00 304.00 L716.00 303.89 L717.00 303.77 L718.00 303.66 L719.00 303.54 L720.00 303.43 L721.00 303.31 L722.00 303.20 L723.00 303.20 L724.00 303.20 L725.00 303.20 L726.00 303.20 L727.00 303.20 L728.00 303.20 L729.00 303.20 L730.00 303.20 L731.00 303.20 L732.00 303.20 L733.00 303.30 L734.00 303.40 L735.00 303.50 L736.00 303.60 L737.00 303.70 L738.00 303.80 L739.00 303.90 L740.00 304.00 L741.00 304.00 L742.00 304.00 L743.00 304.00 L744.00 304.00 L745.00 304.00 L746.00 304.00 L747.00 304.00 L748.00 304.00 L749.00 304.00 L750.00 304.00 L751.00 304.00 L752.00 304.00 L753.00 304.00 L754.00 304.00 L755.00 304.00 L756.00 304.00 L757.00 304.00 L758.00 304.00 L759.00 304.00 L760.00 304.00 L761.00 304.00 L762.00 304.00 L763.00 304.00 L764.00 304.00 L765.00 304.00 L766.00 304.00 L767.00 304.00 L768.00 304.00 L769.00 304.00 L770.00 304.00 L771.00 304.00 L772.00 304.00 L773.00 304.00 L774.00 304.00 L775.00 304.00 L776.00 304.00 L777.00 304.00 L778.00 304.00 L779.00 304.00 L780.00 304.00 L781.00 304.00 L782.00 304.00 L783.00 304.00 L784.00 304.00 L785.00 304.00 L786.00 304.00 L787.00 304.00 L788.00 304.00 L789.00 304.00 L790.00 304.00 L791.00 304.00 L792.00 304.00 L793.00 304.00 L794.00 304.00 L795.00 304.00 L796.00 304.00 L797.00 304.00 L798.00 304.00 L799.00 304.00 L800.00 304.00 L801.00 303.83 L802.00 303.67 L803.00 303.50 L804.00 302.33 L805.00 301.17 L806.00 300.00 L807.00 298.00 L808.00 296.00 L809.00 295.00 L810.00 295.00 L811.00 295.00 L812.00 296.00 L813.00 298.00 L814.00 300.00 L815.00 301.33 L816.00 302.67 L817.00 304.00 L818.00 304.01 L819.00 304.02 L820.00 304.03 L821.00 304.04 L822.00 304.05 L823.00 304.06 L824.00 304.07 L825.00 304.08 L826.00 304.09 L827.00 304.10 L828.00 304.11 L829.00 304.12 L830.00 304.12 L831.00 304.13 L832.00 304.14 L833.00 304.15 L834.00 304.16 L835.00 304.17 L836.00 304.18 L837.00 304.19 L838.00 304.20 L839.00 304.21 L840.00 304.22 L841.00 304.23 L842.00 304.24 L843.00 304.25 L844.00 304.26 L845.00 304.27 L846.00 304.28 L847.00 304.29 L848.00 304.30 L849.00 304.31 L850.00 304.32 L851.00 304.33 L852.00 304.34 L853.00 304.35 L854.00 304.36 L855.00 304.37 L856.00 304.38 L857.00 304.38 L858.00 304.39 L859.00 304.40 L860.00 304.41 L861.00 304.42 L862.00 304.43 L863.00 304.44 L864.00 304.45 L865.00 304.46 L866.00 304.47 L867.00 304.48 L868.00 304.49 L869.00 304.50 L870.00 304.51 L871.00 304.52 L872.00 304.53 L873.00 304.54 L874.00 304.55 L875.00 304.56 L876.00 304.57 L877.00 304.58 L878.00 304.59 L879.00 304.60 L880.00 304.61 L881.00 304.62 L882.00 304.62 L883.00 304.63 L884.00 304.64 L885.00 304.65 L886.00 304.66 L887.00 304.67 L888.00 304.68 L889.00 304.69 L890.00 304.70 L891.00 304.71 L892.00 304.72 L893.00 304.73 L894.00 304.74 L895.00 304.75 L896.00 304.76 L897.00 304.77 L898.00 304.78 L899.00 304.79 L900.00 304.80 L901.00 304.81 L902.00 304.82 L903.00 304.83 L904.00 304.84 L905.00 304.85 L906.00 304.86 L907.00 304.87 L908.00 304.88 L909.00 304.88 L910.00 304.89 L911.00 304.90 L912.00 304.91 L913.00 304.92 L914.00 304.93 L915.00 304.94 L916.00 304.95 L917.00 304.96 L918.00 304.97 L919.00 304.98 L920.00 304.99" stroke="#000" stroke-width="6.0" fill="none" stroke-linejoin="round" stroke-linecap="butt" clip-path="url(#ca)"/>
<path d="M150.0 41.0 V305.0 H921.0 M920.0 305.0 v-9" fill="none" stroke="#000" stroke-width="2"/>
<text transform="translate(140.5 314.5) scale(0.93 1)" text-anchor="end" class="t">0</text>
<text transform="translate(140.5 248.8) scale(0.93 1)" text-anchor="end" class="t">0.01</text>
<text transform="translate(140.5 183.0) scale(0.93 1)" text-anchor="end" class="t">0.02</text>
<text transform="translate(140.5 117.2) scale(0.93 1)" text-anchor="end" class="t">0.03</text>
<text transform="translate(140.5 51.5) scale(0.93 1)" text-anchor="end" class="t">0.04</text>
<text transform="translate(150.3 333.8) scale(0.93 1)" text-anchor="middle" class="t">0</text>
<text transform="translate(227.3 333.8) scale(0.93 1)" text-anchor="middle" class="t">0.2</text>
<text transform="translate(304.3 333.8) scale(0.93 1)" text-anchor="middle" class="t">0.4</text>
<text transform="translate(381.3 333.8) scale(0.93 1)" text-anchor="middle" class="t">0.6</text>
<text transform="translate(458.3 333.8) scale(0.93 1)" text-anchor="middle" class="t">0.8</text>
<text transform="translate(535.3 333.8) scale(0.93 1)" text-anchor="middle" class="t">1.0</text>
<text transform="translate(612.3 333.8) scale(0.93 1)" text-anchor="middle" class="t">1.2</text>
<text transform="translate(689.3 333.8) scale(0.93 1)" text-anchor="middle" class="t">1.4</text>
<text transform="translate(766.3 333.8) scale(0.93 1)" text-anchor="middle" class="t">1.6</text>
<text transform="translate(843.3 333.8) scale(0.93 1)" text-anchor="middle" class="t">1.8</text>
<text transform="translate(920.3 333.8) scale(0.93 1)" text-anchor="middle" class="t">2.0</text>
<text transform="translate(547.5 378) scale(1.025 1)" text-anchor="middle" class="ti">Frequency [Hz]</text>
<text transform="translate(538.7 422.5) scale(1.09 1)" text-anchor="middle" class="tb">(a)</text>
<text transform="translate(29.7 173.5) rotate(-90)" text-anchor="middle" class="ti">Average of</text>
<text transform="translate(72.3 173.5) rotate(-90)" text-anchor="middle" class="ti">normalized PSD</text>
<path d="M150.0 662.4h9 M150.0 596.7h9 M150.0 531.0h9 M150.0 465.4h9 M458.0 728.0v-9 M535.0 728.0v-9 M612.0 728.0v-9 M689.0 728.0v-9 M766.0 728.0v-9 M843.0 728.0v-9 M920.0 728.0v-9" stroke="#000" stroke-width="2" fill="none"/>
<path d="M151.499 621.8V724.5M153.428 628.0V722.6M155.357 634.6V720.5M157.286 641.4V718.0M159.215 648.5V715.4M161.144 654.5V713.7M163.073 658.2V712.8M165.002 661.0V713.5M166.931 662.8V713.4M168.86 662.8V713.5M170.789 660.9V714.6M172.718 658.0V716.3M174.647 654.6V718.1M176.576 650.3V720.2M178.505 645.7V722.9M180.434 640.7V725.7M182.363 631.7V728.0M184.292 621.3V728.0M186.221 610.4V728.0M188.15 599.7V728.0M190.079 590.8V728.0M192.008 587.4V728.0M193.937 588.3V728.0M195.866 594.2V723.4M197.795 604.0V719.8M199.724 613.4V715.3M201.653 621.1V711.6M203.582 625.2V709.4M205.511 624.1V708.4M207.44 620.3V708.2M209.369 617.9V708.2M211.298 618.5V710.0M213.227 621.0V710.1M215.156 620.5V708.8M217.085 619.4V709.2M219.014 610.4V717.5M220.943 604.9V720.2M222.872 600.6V722.9M224.801 594.3V723.1M226.73 597.1V723.1M228.659 604.2V720.6M230.588 612.0V715.2M232.517 615.0V714.1M234.446 612.3V714.2M236.375 608.5V715.1M238.304 606.2V716.9M240.233 606.2V719.8M242.162 610.0V723.4M244.091 617.7V726.5M246.02 627.1V727.4M247.949 635.8V726.3M249.878 643.0V725.2M251.807 648.4V724.1M253.736 651.8V722.9M255.665 654.2V722.2M257.594 655.5V722.2M259.523 655.2V722.2M261.452 650.4V722.2M263.381 641.4V728.0M265.31 625.3V728.0M267.239 606.2V728.0M269.168 587.6V728.0M271.097 582.6V728.0M273.026 596.9V728.0M274.955 618.8V728.0M276.884 640.4V728.0M278.813 655.6V728.0M280.742 664.7V728.0M282.671 669.4V727.2M284.6 671.8V725.5M286.529 672.6V725.5M288.458 672.7V725.5M290.387 672.7V725.5M292.316 672.8V725.5M294.245 672.9V725.5M296.174 673.0V725.5M298.103 673.2V725.5M300.032 674.2V725.5M301.961 676.1V724.2M303.89 678.8V723.3M305.819 681.7V722.9M307.748 684.0V722.6M309.677 686.0V722.3M311.606 688.0V722.1M313.535 689.7V722.1M315.464 690.4V722.2M317.393 689.7V722.4M319.322 686.9V723.3M321.251 683.9V724.5M323.18 682.6V725.0M325.109 681.7V725.1M327.038 681.3V725.1M328.967 682.5V725.1M330.896 684.0V725.2M332.825 686.0V725.2M334.754 688.1V725.2M336.683 690.5V725.3M338.612 693.5V725.3M340.541 696.0V725.3M342.47 698.4V725.4M344.399 700.7V725.4M346.328 702.8V725.2M348.257 704.7V724.8M350.186 705.7V724.5M352.115 706.7V724.5M354.044 707.1V724.5M355.973 707.5V724.5M357.902 707.9V724.5M359.831 708.3V724.5M361.76 708.3V724.8M363.689 708.3V725.1M365.618 708.3V725.3M367.547 708.3V725.6M369.476 708.3V725.9M371.405 708.2V726.0M373.334 708.1V726.0M375.263 708.0V726.0M377.192 707.9V726.0M379.121 707.8V726.1M381.05 707.7V726.1M382.979 707.4V726.1M384.908 707.2V726.1M386.837 706.3V726.1M388.766 704.9V726.1M390.695 702.8V726.1M392.624 699.5V726.1M394.553 697.2V726.1M396.482 695.5V726.2M398.411 694.8V726.2M400.34 696.3V726.2M402.269 699.9V726.2M404.198 703.3V726.2M406.127 706.5V726.2M408.056 710.7V726.2M409.985 713.1V726.2M411.914 715.1V726.3M413.843 716.5V726.3M415.772 717.0V726.3M417.701 717.5V726.3M419.63 717.6V726.3M421.559 717.7V726.8M423.488 717.8V727.5M425.417 717.6V728.0M427.346 716.6V728.0M429.275 715.3V728.0M431.204 712.2V728.0M433.133 708.8V728.0M435.062 705.5V728.0M436.991 707.5V728.0M438.92 711.0V728.0M440.849 711.6V728.0M442.778 710.7V728.0M444.707 708.0V728.0M446.636 705.6V728.0M448.565 704.9V728.0M450.494 705.3V728.0M452.423 708.1V728.0M454.352 711.6V728.0M456.281 713.9V728.0M458.21 715.2V728.0M460.139 716.3V728.0M462.068 717.3V728.0M463.997 717.9V728.0M465.926 718.6V728.0M467.855 718.8V728.0M469.784 719.0V728.0M471.713 719.3V728.0M473.642 719.5V728.0M475.571 719.7V728.0M477.5 719.9V728.0M479.429 720.0V728.0M481.358 720.2V728.0M483.287 720.4V728.0M485.216 720.6V728.0M487.145 720.8V728.0M489.074 721.1V728.0M491.003 721.3V728.0M492.932 721.6V728.0M494.861 721.9V728.0M496.79 722.0V728.0M498.719 722.1V728.0M500.648 722.2V728.0M502.577 722.3V728.0M504.506 722.4V728.0M506.435 722.3V728.0M508.364 722.3V728.0M510.293 722.2V728.0M512.222 722.1V728.0M514.151 721.9V728.0M516.08 721.4V728.0M518.009 721.0V728.0M519.938 720.6V728.0M521.867 719.2V727.3M523.796 717.7V726.5M525.725 716.6V726.0M527.654 715.0V726.0M529.583 712.4V726.0M531.512 709.8V726.0M533.441 708.6V726.0M535.37 708.5V726.0M537.299 709.0V726.0M539.228 710.5V726.0M541.157 712.1V726.0M543.086 713.4V726.0M545.015 715.0V726.0M546.944 716.9V726.8M548.873 718.9V727.5M550.802 720.3V728.0M552.731 721.4V728.0M554.66 722.1V728.0M556.589 722.7V728.0M558.518 723.0V728.0M560.447 723.3V728.0M562.376 723.5V728.0M564.305 723.5V728.0M566.234 723.5V728.0M568.163 723.5V728.0M570.092 723.5V728.0M572.021 723.5V728.0M573.95 722.6V728.0M575.879 721.7V728.0M577.808 718.8V728.0M579.737 715.8V728.0M581.666 713.1V728.0M583.595 710.8V728.0M585.524 709.1V728.0M587.453 710.0V728.0M589.382 712.1V728.0M591.311 715.7V728.0M593.24 717.3V728.0M595.169 717.8V728.0M597.098 715.5V728.0M599.027 708.1V728.0M600.956 694.4V728.0M602.885 686.9V728.0M604.814 697.3V728.0M606.743 708.5V728.0M608.672 720.0V728.0M610.601 720.0V728.0M612.53 720.0V728.0M614.459 720.0V728.0M616.388 720.0V728.0M618.317 720.0V728.0M620.246 720.0V728.0M622.175 720.0V728.0M624.104 720.0V728.0M626.033 719.7V728.0M627.962 703.8V728.0M629.891 688.1V728.0M631.82 646.8V728.0M633.749 600.0V728.0M635.678 597.4V728.0M637.607 540.5V728.0M639.536 600.0V728.0M641.465 601.7V728.0M643.394 652.5V728.0M645.323 700.9V728.0M647.252 715.1V728.0M649.181 720.0V728.0M651.11 720.3V728.0M653.039 720.6V728.0M654.968 720.9V728.0M656.897 721.2V728.0M658.826 721.5V728.0M660.755 721.8V728.0M662.684 722.0V728.0M664.613 722.0V728.0M666.542 722.0V728.0M668.471 722.0V728.0M670.4 722.0V728.0M672.329 722.1V728.0M674.258 722.3V728.0M676.187 722.5V728.0M678.116 722.7V728.0M680.045 723.0V728.0M681.974 723.2V728.0M683.903 723.4V728.0M685.832 723.6V728.0M687.761 723.8V728.0M689.69 724.0V728.0M691.619 724.0V728.0M693.548 724.0V728.0M695.477 724.0V728.0M697.406 724.0V728.0M699.335 724.0V728.0M701.264 724.0V728.0M703.193 724.0V728.0M705.122 724.0V728.0M707.051 724.0V728.0M708.98 724.0V728.0M710.909 724.0V728.0M712.838 724.0V728.0M714.767 724.0V728.0M716.696 724.0V728.0M718.625 724.0V728.0M720.554 724.0V728.0M722.483 724.0V728.0M724.412 724.0V728.0M726.341 724.0V728.0M728.27 724.0V728.0M730.199 724.0V728.0M732.128 724.0V728.0M734.057 724.0V728.0M735.986 724.0V728.0M737.915 724.0V728.0M739.844 724.0V728.0M741.773 724.0V728.0M743.702 724.0V728.0M745.631 724.0V728.0M747.56 724.0V728.0M749.489 724.0V728.0M751.418 724.0V728.0M753.347 724.0V728.0M755.276 724.0V728.0M757.205 724.0V728.0M759.134 724.0V728.0M761.063 724.0V728.0M762.992 724.0V728.0M764.921 724.0V728.0M766.85 724.0V728.0M768.779 724.0V728.0M770.708 724.0V728.0M772.637 724.0V728.0M774.566 724.0V728.0M776.495 724.0V728.0M778.424 724.0V728.0M780.353 724.0V728.0M782.282 724.0V728.0M784.211 724.0V728.0M786.14 724.0V728.0M788.069 724.0V728.0M789.998 724.0V728.0M791.927 724.0V728.0M793.856 724.0V728.0M795.785 724.0V728.0M797.714 724.0V728.0M799.643 724.0V728.0M801.572 724.0V728.0M803.501 724.0V728.0M805.43 724.0V728.0M807.359 724.0V728.0M809.288 724.0V728.0M811.217 724.0V728.0M813.146 724.0V728.0M815.075 724.0V728.0M817.004 724.0V728.0M818.933 724.0V728.0M820.862 724.0V728.0M822.791 724.0V728.0M824.72 724.0V728.0M826.649 724.0V728.0M828.578 724.0V728.0M830.507 724.0V728.0M832.436 724.0V728.0M834.365 724.0V728.0M836.294 724.0V728.0M838.223 724.0V728.0M840.152 724.0V728.0M842.081 724.0V728.0M844.01 724.0V728.0M845.939 724.0V728.0M847.868 724.0V728.0M849.797 724.0V728.0M851.726 724.0V728.0M853.655 724.0V728.0M855.584 724.0V728.0M857.513 724.0V728.0M859.442 724.0V728.0M861.371 724.0V728.0M863.3 724.0V728.0M865.229 724.0V728.0M867.158 724.0V728.0M869.087 724.0V728.0M871.016 724.0V728.0M872.945 724.0V728.0M874.874 724.0V728.0M876.803 724.0V728.0M878.732 724.0V728.0M880.661 724.0V728.0M882.59 724.0V728.0M884.519 724.0V728.0M886.448 724.0V728.0M888.377 724.0V728.0M890.306 724.0V728.0M892.235 724.0V728.0M894.164 724.0V728.0M896.093 724.0V728.0M898.022 724.0V728.0M899.951 724.0V728.0M901.88 724.0V728.0M903.809 724.0V728.0M905.738 724.0V728.0M907.667 724.0V728.0M909.596 724.0V728.0M911.525 724.0V728.0M913.454 724.0V728.0M915.383 724.0V728.0M917.312 724.0V728.0M919.241 724.0V728.0M612.53 465V700M633.75 465V700M640.6 465V700M666.54 465V700" stroke="#5c5c5c" stroke-width="1.1" fill="none"/>
<path d="M149.50 622.5h4.0M149.50 725.5h4.0M151.43 628.5h4.0M151.43 723.5h4.0M153.36 635.5h4.0M153.36 720.5h4.0M155.29 641.5h4.0M155.29 718.5h4.0M157.22 649.5h4.0M157.22 715.5h4.0M159.14 654.5h4.0M159.14 714.5h4.0M161.07 658.5h4.0M161.07 713.5h4.0M163.00 661.5h4.0M163.00 713.5h4.0M164.93 663.5h4.0M164.93 713.5h4.0M166.86 663.5h4.0M166.86 713.5h4.0M168.79 661.5h4.0M168.79 715.5h4.0M170.72 658.5h4.0M170.72 716.5h4.0M172.65 655.5h4.0M172.65 718.5h4.0M174.58 650.5h4.0M174.58 720.5h4.0M176.50 646.5h4.0M176.50 723.5h4.0M178.43 641.5h4.0M178.43 726.5h4.0M180.36 632.5h4.0M182.29 621.5h4.0M184.22 610.5h4.0M186.15 600.5h4.0M188.08 591.5h4.0M190.01 587.5h4.0M191.94 588.5h4.0M193.87 594.5h4.0M193.87 723.5h4.0M195.79 604.5h4.0M195.79 720.5h4.0M197.72 613.5h4.0M197.72 715.5h4.0M199.65 621.5h4.0M199.65 712.5h4.0M201.58 625.5h4.0M201.58 709.5h4.0M203.51 624.5h4.0M203.51 708.5h4.0M205.44 620.5h4.0M205.44 708.5h4.0M207.37 618.5h4.0M207.37 708.5h4.0M209.30 618.5h4.0M209.30 710.5h4.0M211.23 621.5h4.0M211.23 710.5h4.0M213.16 620.5h4.0M213.16 709.5h4.0M215.09 619.5h4.0M215.09 709.5h4.0M217.01 610.5h4.0M217.01 718.5h4.0M218.94 605.5h4.0M218.94 720.5h4.0M220.87 601.5h4.0M220.87 723.5h4.0M222.80 594.5h4.0M222.80 723.5h4.0M224.73 597.5h4.0M224.73 723.5h4.0M226.66 604.5h4.0M226.66 721.5h4.0M228.59 612.5h4.0M228.59 715.5h4.0M230.52 615.5h4.0M230.52 714.5h4.0M232.45 612.5h4.0M232.45 714.5h4.0M234.38 609.5h4.0M234.38 715.5h4.0M236.30 606.5h4.0M236.30 717.5h4.0M238.23 606.5h4.0M238.23 720.5h4.0M240.16 610.5h4.0M240.16 723.5h4.0M242.09 618.5h4.0M242.09 727.5h4.0M244.02 627.5h4.0M245.95 636.5h4.0M245.95 726.5h4.0M247.88 643.5h4.0M247.88 725.5h4.0M249.81 648.5h4.0M249.81 724.5h4.0M251.74 652.5h4.0M251.74 723.5h4.0M253.66 654.5h4.0M253.66 722.5h4.0M255.59 655.5h4.0M255.59 722.5h4.0M257.52 655.5h4.0M257.52 722.5h4.0M259.45 650.5h4.0M259.45 722.5h4.0M261.38 641.5h4.0M263.31 625.5h4.0M265.24 606.5h4.0M267.17 588.5h4.0M269.10 583.5h4.0M271.03 597.5h4.0M272.95 619.5h4.0M274.88 640.5h4.0M276.81 656.5h4.0M278.74 665.5h4.0M280.67 669.5h4.0M282.60 672.5h4.0M282.60 726.5h4.0M284.53 673.5h4.0M284.53 726.5h4.0M286.46 673.5h4.0M286.46 726.5h4.0M288.39 673.5h4.0M288.39 726.5h4.0M290.32 673.5h4.0M290.32 726.5h4.0M292.25 673.5h4.0M292.25 726.5h4.0M294.17 673.5h4.0M294.17 726.5h4.0M296.10 673.5h4.0M296.10 726.5h4.0M298.03 674.5h4.0M298.03 725.5h4.0M299.96 676.5h4.0M299.96 724.5h4.0M301.89 679.5h4.0M301.89 723.5h4.0M303.82 682.5h4.0M303.82 723.5h4.0M305.75 684.5h4.0M305.75 723.5h4.0M307.68 686.5h4.0M307.68 722.5h4.0M309.61 688.5h4.0M309.61 722.5h4.0M311.54 690.5h4.0M311.54 722.5h4.0M313.46 690.5h4.0M313.46 722.5h4.0M315.39 690.5h4.0M315.39 722.5h4.0M317.32 687.5h4.0M317.32 723.5h4.0M319.25 684.5h4.0M319.25 725.5h4.0M321.18 683.5h4.0M321.18 725.5h4.0M323.11 682.5h4.0M323.11 725.5h4.0M325.04 681.5h4.0M325.04 725.5h4.0M326.97 682.5h4.0M326.97 725.5h4.0M328.90 684.5h4.0M328.90 725.5h4.0M330.82 686.5h4.0M330.82 725.5h4.0M332.75 688.5h4.0M332.75 725.5h4.0M334.68 690.5h4.0M334.68 725.5h4.0M336.61 693.5h4.0M336.61 725.5h4.0M338.54 696.5h4.0M338.54 725.5h4.0M340.47 698.5h4.0M340.47 725.5h4.0M342.40 701.5h4.0M342.40 725.5h4.0M344.33 703.5h4.0M344.33 725.5h4.0M346.26 705.5h4.0M346.26 725.5h4.0M348.19 706.5h4.0M348.19 724.5h4.0M350.12 707.5h4.0M350.12 724.5h4.0M352.04 707.5h4.0M352.04 724.5h4.0M353.97 707.5h4.0M353.97 724.5h4.0M355.90 708.5h4.0M355.90 724.5h4.0M357.83 708.5h4.0M357.83 724.5h4.0M359.76 708.5h4.0M359.76 725.5h4.0M361.69 708.5h4.0M361.69 725.5h4.0M363.62 708.5h4.0M363.62 725.5h4.0M365.55 708.5h4.0M365.55 726.5h4.0M367.48 708.5h4.0M367.48 726.5h4.0M369.40 708.5h4.0M369.40 726.5h4.0M371.33 708.5h4.0M371.33 726.5h4.0M373.26 708.5h4.0M373.26 726.5h4.0M375.19 708.5h4.0M375.19 726.5h4.0M377.12 708.5h4.0M377.12 726.5h4.0M379.05 708.5h4.0M379.05 726.5h4.0M380.98 707.5h4.0M380.98 726.5h4.0M382.91 707.5h4.0M382.91 726.5h4.0M384.84 706.5h4.0M384.84 726.5h4.0M386.77 705.5h4.0M386.77 726.5h4.0M388.69 703.5h4.0M388.69 726.5h4.0M390.62 699.5h4.0M390.62 726.5h4.0M392.55 697.5h4.0M392.55 726.5h4.0M394.48 696.5h4.0M394.48 726.5h4.0M396.41 695.5h4.0M396.41 726.5h4.0M398.34 696.5h4.0M398.34 726.5h4.0M400.27 700.5h4.0M400.27 726.5h4.0M402.20 703.5h4.0M402.20 726.5h4.0M404.13 706.5h4.0M404.13 726.5h4.0M406.06 711.5h4.0M406.06 726.5h4.0M407.99 713.5h4.0M407.99 726.5h4.0M409.91 715.5h4.0M409.91 726.5h4.0M411.84 716.5h4.0M411.84 726.5h4.0M413.77 717.5h4.0M413.77 726.5h4.0M415.70 718.5h4.0M415.70 726.5h4.0M417.63 718.5h4.0M417.63 726.5h4.0M419.56 718.5h4.0M419.56 727.5h4.0M421.49 718.5h4.0M423.42 718.5h4.0M425.35 717.5h4.0M427.27 715.5h4.0M429.20 712.5h4.0M431.13 709.5h4.0M433.06 705.5h4.0M434.99 707.5h4.0M436.92 711.5h4.0M438.85 712.5h4.0M440.78 711.5h4.0M442.71 708.5h4.0M444.64 706.5h4.0M446.56 705.5h4.0M448.49 705.5h4.0M450.42 708.5h4.0M452.35 712.5h4.0M454.28 714.5h4.0M456.21 715.5h4.0M458.14 716.5h4.0M460.07 717.5h4.0M462.00 718.5h4.0M463.93 719.5h4.0M465.86 719.5h4.0M467.78 719.5h4.0M469.71 719.5h4.0M471.64 719.5h4.0M473.57 720.5h4.0M475.50 720.5h4.0M477.43 720.5h4.0M479.36 720.5h4.0M481.29 720.5h4.0M483.22 721.5h4.0M485.14 721.5h4.0M487.07 721.5h4.0M489.00 721.5h4.0M490.93 722.5h4.0M492.86 722.5h4.0M494.79 722.5h4.0M496.72 722.5h4.0M498.65 722.5h4.0M500.58 722.5h4.0M502.51 722.5h4.0M504.44 722.5h4.0M506.36 722.5h4.0M508.29 722.5h4.0M510.22 722.5h4.0M512.15 722.5h4.0M514.08 721.5h4.0M516.01 721.5h4.0M517.94 721.5h4.0M519.87 719.5h4.0M521.80 718.5h4.0M521.80 726.5h4.0M523.73 717.5h4.0M523.73 726.5h4.0M525.65 715.5h4.0M525.65 726.5h4.0M527.58 712.5h4.0M527.58 726.5h4.0M529.51 710.5h4.0M529.51 726.5h4.0M531.44 709.5h4.0M531.44 726.5h4.0M533.37 708.5h4.0M533.37 726.5h4.0M535.30 709.5h4.0M535.30 726.5h4.0M537.23 710.5h4.0M537.23 726.5h4.0M539.16 712.5h4.0M539.16 726.5h4.0M541.09 713.5h4.0M541.09 726.5h4.0M543.01 715.5h4.0M543.01 726.5h4.0M544.94 717.5h4.0M544.94 727.5h4.0M546.87 719.5h4.0M548.80 720.5h4.0M550.73 721.5h4.0M552.66 722.5h4.0M554.59 723.5h4.0M556.52 723.5h4.0M558.45 723.5h4.0M560.38 724.5h4.0M562.30 724.5h4.0M564.23 724.5h4.0M566.16 724.5h4.0M568.09 724.5h4.0M570.02 723.5h4.0M571.95 723.5h4.0M573.88 722.5h4.0M575.81 719.5h4.0M577.74 716.5h4.0M579.67 713.5h4.0M581.60 711.5h4.0M583.52 709.5h4.0M585.45 710.5h4.0M587.38 712.5h4.0M589.31 716.5h4.0M591.24 717.5h4.0M593.17 718.5h4.0M595.10 716.5h4.0M597.03 708.5h4.0M598.96 694.5h4.0M600.88 687.5h4.0M602.81 697.5h4.0M604.74 708.5h4.0M606.67 720.5h4.0M608.60 720.5h4.0M610.53 720.5h4.0M612.46 720.5h4.0M614.39 720.5h4.0M616.32 720.5h4.0M618.25 720.5h4.0M620.17 720.5h4.0M622.10 720.5h4.0M624.03 720.5h4.0M625.96 704.5h4.0M627.89 688.5h4.0M629.82 647.5h4.0M631.75 600.5h4.0M633.68 597.5h4.0M635.61 541.5h4.0M637.54 600.5h4.0M639.47 602.5h4.0M641.39 652.5h4.0M643.32 701.5h4.0M645.25 715.5h4.0M647.18 720.5h4.0M649.11 720.5h4.0M651.04 721.5h4.0M652.97 721.5h4.0M654.90 721.5h4.0M656.83 722.5h4.0M658.75 722.5h4.0M660.68 722.5h4.0M662.61 722.5h4.0M664.54 722.5h4.0M666.47 722.5h4.0M668.40 722.5h4.0M670.33 722.5h4.0M672.26 722.5h4.0M674.19 723.5h4.0M676.12 723.5h4.0M678.04 723.5h4.0M679.97 723.5h4.0M681.90 723.5h4.0M683.83 724.5h4.0M685.76 724.5h4.0M687.69 724.5h4.0M689.62 724.5h4.0M691.55 724.5h4.0M693.48 724.5h4.0M695.41 724.5h4.0M697.34 724.5h4.0M699.26 724.5h4.0M701.19 724.5h4.0M703.12 724.5h4.0M705.05 724.5h4.0M706.98 724.5h4.0M708.91 724.5h4.0M710.84 724.5h4.0M712.77 724.5h4.0M714.70 724.5h4.0M716.62 724.5h4.0M718.55 724.5h4.0M720.48 724.5h4.0M722.41 724.5h4.0M724.34 724.5h4.0M726.27 724.5h4.0M728.20 724.5h4.0M730.13 724.5h4.0M732.06 724.5h4.0M733.99 724.5h4.0M735.91 724.5h4.0M737.84 724.5h4.0M739.77 724.5h4.0M741.70 724.5h4.0M743.63 724.5h4.0M745.56 724.5h4.0M747.49 724.5h4.0M749.42 724.5h4.0M751.35 724.5h4.0M753.28 724.5h4.0M755.21 724.5h4.0M757.13 724.5h4.0M759.06 724.5h4.0M760.99 724.5h4.0M762.92 724.5h4.0M764.85 724.5h4.0M766.78 724.5h4.0M768.71 724.5h4.0M770.64 724.5h4.0M772.57 724.5h4.0M774.50 724.5h4.0M776.42 724.5h4.0M778.35 724.5h4.0M780.28 724.5h4.0M782.21 724.5h4.0M784.14 724.5h4.0M786.07 724.5h4.0M788.00 724.5h4.0M789.93 724.5h4.0M791.86 724.5h4.0M793.78 724.5h4.0M795.71 724.5h4.0M797.64 724.5h4.0M799.57 724.5h4.0M801.50 724.5h4.0M803.43 724.5h4.0M805.36 724.5h4.0M807.29 724.5h4.0M809.22 724.5h4.0M811.15 724.5h4.0M813.08 724.5h4.0M815.00 724.5h4.0M816.93 724.5h4.0M818.86 724.5h4.0M820.79 724.5h4.0M822.72 724.5h4.0M824.65 724.5h4.0M826.58 724.5h4.0M828.51 724.5h4.0M830.44 724.5h4.0M832.37 724.5h4.0M834.29 724.5h4.0M836.22 724.5h4.0M838.15 724.5h4.0M840.08 724.5h4.0M842.01 724.5h4.0M843.94 724.5h4.0M845.87 724.5h4.0M847.80 724.5h4.0M849.73 724.5h4.0M851.65 724.5h4.0M853.58 724.5h4.0M855.51 724.5h4.0M857.44 724.5h4.0M859.37 724.5h4.0M861.30 724.5h4.0M863.23 724.5h4.0M865.16 724.5h4.0M867.09 724.5h4.0M869.02 724.5h4.0M870.95 724.5h4.0M872.87 724.5h4.0M874.80 724.5h4.0M876.73 724.5h4.0M878.66 724.5h4.0M880.59 724.5h4.0M882.52 724.5h4.0M884.45 724.5h4.0M886.38 724.5h4.0M888.31 724.5h4.0M890.24 724.5h4.0M892.16 724.5h4.0M894.09 724.5h4.0M896.02 724.5h4.0M897.95 724.5h4.0M899.88 724.5h4.0M901.81 724.5h4.0M903.74 724.5h4.0M905.67 724.5h4.0M907.60 724.5h4.0M909.52 724.5h4.0M911.45 724.5h4.0M913.38 724.5h4.0M915.31 724.5h4.0M917.24 724.5h4.0" stroke="#5c5c5c" stroke-width="1" fill="none"/>
<clipPath id="cb"><rect x="150.0" y="455.4" width="771.0" height="273.6"/></clipPath>
<path d="M150.00 675.30 L151.00 676.16 L152.00 677.10 L153.00 678.03 L154.00 678.96 L155.00 679.90 L156.00 680.95 L157.00 682.00 L158.00 683.05 L159.00 684.10 L160.00 684.86 L161.00 685.63 L162.00 686.40 L163.00 686.80 L164.00 687.20 L165.00 687.60 L166.00 687.86 L167.00 687.97 L168.00 688.08 L169.00 688.20 L170.00 687.83 L171.00 687.46 L172.00 687.08 L173.00 686.56 L174.00 685.87 L175.00 685.18 L176.00 684.50 L177.00 683.20 L178.00 681.90 L179.00 680.60 L180.00 678.96 L181.00 677.33 L182.00 675.70 L183.00 673.83 L184.00 671.96 L185.00 670.10 L186.00 668.46 L187.00 666.83 L188.00 665.20 L189.00 664.23 L190.00 663.25 L191.00 662.28 L192.00 661.72 L193.00 661.57 L194.00 661.82 L195.00 662.46 L196.00 663.10 L197.00 664.03 L198.00 664.96 L199.00 665.90 L200.00 666.26 L201.00 666.63 L202.00 667.00 L203.00 666.73 L204.00 666.46 L205.00 666.20 L206.00 665.93 L207.00 665.66 L208.00 665.40 L209.00 665.23 L210.00 665.06 L211.00 664.90 L212.00 664.93 L213.00 664.96 L214.00 665.00 L215.00 664.90 L216.00 664.80 L217.00 664.70 L218.00 663.83 L219.00 662.96 L220.00 662.10 L221.00 661.20 L222.00 660.30 L223.00 659.40 L224.00 659.70 L225.00 660.00 L226.00 661.12 L227.00 662.24 L228.00 663.22 L229.00 664.06 L230.00 664.90 L231.00 665.30 L232.00 665.70 L233.00 666.10 L234.00 666.33 L235.00 666.56 L236.00 666.80 L237.00 667.48 L238.00 668.16 L239.00 669.18 L240.00 670.54 L241.00 671.90 L242.00 673.53 L243.00 675.16 L244.00 676.80 L245.00 678.36 L246.00 679.93 L247.00 681.50 L248.00 682.73 L249.00 683.96 L250.00 685.20 L251.00 686.06 L252.00 686.93 L253.00 687.80 L254.00 688.13 L255.00 688.46 L256.00 688.80 L257.00 688.88 L258.00 688.96 L259.00 688.86 L260.00 688.58 L261.00 688.30 L262.00 687.62 L263.00 686.94 L264.00 685.84 L265.00 684.32 L266.00 682.80 L267.00 681.55 L268.00 680.30 L269.00 679.74 L270.00 679.18 L271.00 679.40 L272.00 680.40 L273.00 681.40 L274.00 683.48 L275.00 685.56 L276.00 687.86 L277.00 690.38 L278.00 692.90 L279.00 694.30 L280.00 695.70 L281.00 697.10 L282.00 697.70 L283.00 698.30 L284.00 698.90 L285.00 699.07 L286.00 699.25 L287.00 699.42 L288.00 699.60 L289.00 699.50 L290.00 699.40 L291.00 699.30 L292.00 699.20 L293.00 699.25 L294.00 699.30 L295.00 699.35 L296.00 699.40 L297.00 699.80 L298.00 700.20 L299.00 700.60 L300.00 701.00 L301.00 701.70 L302.00 702.40 L303.00 703.10 L304.00 703.80 L305.00 704.32 L306.00 704.85 L307.00 705.37 L308.00 705.90 L309.00 706.10 L310.00 706.30 L311.00 706.50 L312.00 706.70 L313.00 706.70 L314.00 706.70 L315.00 706.70 L316.00 706.70 L317.00 706.30 L318.00 705.90 L319.00 705.50 L320.00 705.10 L321.00 705.01 L322.00 704.93 L323.00 704.85 L324.00 704.76 L325.00 704.68 L326.00 704.60 L327.00 704.72 L328.00 704.85 L329.00 704.97 L330.00 705.10 L331.00 705.64 L332.00 706.18 L333.00 706.72 L334.00 707.26 L335.00 707.80 L336.00 708.52 L337.00 709.24 L338.00 709.95 L339.00 710.67 L340.00 711.39 L341.00 711.93 L342.00 712.47 L343.00 713.01 L344.00 713.55 L345.00 714.09 L346.00 714.39 L347.00 714.69 L348.00 714.99 L349.00 715.29 L350.00 715.59 L351.00 715.70 L352.00 715.81 L353.00 715.92 L354.00 716.03 L355.00 716.14 L356.00 716.25 L357.00 716.36 L358.00 716.47 L359.00 716.58 L360.00 716.69 L361.00 716.74 L362.00 716.79 L363.00 716.84 L364.00 716.89 L365.00 716.94 L366.00 716.99 L367.00 717.04 L368.00 717.09 L369.00 717.14 L370.00 717.19 L371.00 717.19 L372.00 717.19 L373.00 717.19 L374.00 717.19 L375.00 717.19 L376.00 717.19 L377.00 717.19 L378.00 717.19 L379.00 717.19 L380.00 717.19 L381.00 717.12 L382.00 717.05 L383.00 716.98 L384.00 716.91 L385.00 716.84 L386.00 716.77 L387.00 716.70 L388.00 716.63 L389.00 716.56 L390.00 716.49 L391.00 716.32 L392.00 716.14 L393.00 715.97 L394.00 715.79 L395.00 715.62 L396.00 715.44 L397.00 715.27 L398.00 715.09 L399.00 715.31 L400.00 715.53 L401.00 715.75 L402.00 715.97 L403.00 716.19 L404.00 716.85 L405.00 717.51 L406.00 718.17 L407.00 718.83 L408.00 719.49 L409.00 719.84 L410.00 720.19 L411.00 720.43 L412.00 720.67 L413.00 720.91 L414.00 721.15 L415.00 721.39 L416.00 721.51 L417.00 721.63 L418.00 721.75 L419.00 721.87 L420.00 721.99 L421.00 721.99 L422.00 721.99 L423.00 721.99 L424.00 721.99 L425.00 721.99 L426.00 721.79 L427.00 721.59 L428.00 721.39 L429.00 721.19 L430.00 720.99 L431.00 720.69 L432.00 720.39 L433.00 720.09 L434.00 719.79 L435.00 719.91 L436.00 720.04 L437.00 720.16 L438.00 720.29 L439.00 720.36 L440.00 720.44 L441.00 720.51 L442.00 720.59 L443.00 720.43 L444.00 720.27 L445.00 720.11 L446.00 719.95 L447.00 719.79 L448.00 720.01 L449.00 720.23 L450.00 720.45 L451.00 720.67 L452.00 720.89 L453.00 721.10 L454.00 721.32 L455.00 721.54 L456.00 721.75 L457.00 721.97 L458.00 722.19 L459.00 722.29 L460.00 722.39 L461.00 722.48 L462.00 722.58 L463.00 722.68 L464.00 722.78 L465.00 722.88 L466.00 722.91 L467.00 722.94 L468.00 722.97 L469.00 723.00 L470.00 723.03 L471.00 723.06 L472.00 723.09 L473.00 723.12 L474.00 723.15 L475.00 723.18 L476.00 723.21 L477.00 723.24 L478.00 723.27 L479.00 723.30 L480.00 723.33 L481.00 723.37 L482.00 723.40 L483.00 723.43 L484.00 723.46 L485.00 723.49 L486.00 723.52 L487.00 723.55 L488.00 723.58 L489.00 723.73 L490.00 723.89 L491.00 724.04 L492.00 724.20 L493.00 724.35 L494.00 724.51 L495.00 724.66 L496.00 724.82 L497.00 724.98 L498.00 725.01 L499.00 725.04 L500.00 725.07 L501.00 725.11 L502.00 725.14 L503.00 725.17 L504.00 725.21 L505.00 725.24 L506.00 725.27 L507.00 725.30 L508.00 725.34 L509.00 725.37 L510.00 725.40 L511.00 725.44 L512.00 725.47 L513.00 725.46 L514.00 725.45 L515.00 725.44 L516.00 725.43 L517.00 725.42 L518.00 725.41 L519.00 725.41 L520.00 725.40 L521.00 725.39 L522.00 725.38 L523.00 725.37 L524.00 725.36 L525.00 725.04 L526.00 724.73 L527.00 724.41 L528.00 724.09 L529.00 723.77 L530.00 723.46 L531.00 723.19 L532.00 722.93 L533.00 722.67 L534.00 722.41 L535.00 722.15 L536.00 722.23 L537.00 722.31 L538.00 722.39 L539.00 722.46 L540.00 722.54 L541.00 722.86 L542.00 723.17 L543.00 723.49 L544.00 723.80 L545.00 724.12 L546.00 724.43 L547.00 724.65 L548.00 724.86 L549.00 725.07 L550.00 725.28 L551.00 725.50 L552.00 725.71 L553.00 725.92 L554.00 725.93 L555.00 725.94 L556.00 725.95 L557.00 725.96 L558.00 725.97 L559.00 725.98 L560.00 725.98 L561.00 725.99 L562.00 726.00 L563.00 726.01 L564.00 726.02 L565.00 726.02 L566.00 726.03 L567.00 726.04 L568.00 726.05 L569.00 726.05 L570.00 726.06 L571.00 725.94 L572.00 725.81 L573.00 725.69 L574.00 725.57 L575.00 725.44 L576.00 725.32 L577.00 725.01 L578.00 724.70 L579.00 724.39 L580.00 724.08 L581.00 723.76 L582.00 723.59 L583.00 723.42 L584.00 723.24 L585.00 723.06 L586.00 722.88 L587.00 723.08 L588.00 723.28 L589.00 723.47 L590.00 723.66 L591.00 723.85 L592.00 723.98 L593.00 724.11 L594.00 724.24 L595.00 724.35 L596.00 723.62 L597.00 722.87 L598.00 722.10 L599.00 720.94 L600.00 719.75 L601.00 718.52 L601.10 718.39 L601.20 718.27 L601.30 718.14 L601.40 718.01 L601.50 717.88 L601.60 717.76 L601.70 717.63 L601.80 717.50 L601.90 717.37 L602.00 717.24 L602.10 717.10 L602.20 716.97 L602.30 716.84 L602.40 716.70 L602.50 716.57 L602.60 716.43 L602.70 716.29 L602.80 716.16 L602.90 716.02 L603.00 715.88 L603.10 715.98 L603.20 716.08 L603.30 716.18 L603.40 716.28 L603.50 716.38 L603.60 716.47 L603.70 716.57 L603.80 716.66 L603.90 716.75 L604.00 716.84 L604.10 716.93 L604.20 717.02 L604.30 717.10 L604.40 717.19 L604.50 717.27 L604.60 717.35 L604.70 717.42 L604.80 717.50 L604.90 717.57 L605.00 717.64 L605.10 717.70 L605.20 717.76 L605.30 717.82 L605.40 717.88 L605.50 717.93 L605.60 717.98 L605.70 718.03 L605.80 718.07 L605.90 718.11 L606.00 718.14 L606.10 718.12 L606.20 718.10 L606.30 718.07 L606.40 718.04 L606.50 718.00 L606.60 717.95 L606.70 717.90 L606.80 717.84 L606.90 717.77 L607.00 717.70 L607.10 717.61 L607.20 717.51 L607.30 717.41 L607.40 717.29 L607.50 717.16 L607.60 717.02 L607.70 716.86 L607.80 716.69 L607.90 716.50 L608.00 716.29 L608.10 716.06 L608.20 715.82 L608.30 715.54 L608.40 715.25 L608.50 714.93 L608.60 714.57 L608.70 714.19 L608.80 713.76 L608.90 713.30 L609.00 712.80 L609.10 712.24 L609.20 711.63 L609.30 710.96 L609.40 710.23 L609.50 709.42 L609.60 708.52 L609.70 707.54 L609.80 706.44 L609.90 705.23 L610.00 703.87 L610.10 702.27 L610.20 700.49 L610.30 698.51 L610.40 696.30 L610.50 693.81 L610.60 691.01 L610.70 687.85 L610.80 684.26 L610.90 680.17 L611.00 675.50 L611.10 670.14 L611.20 663.97 L611.30 656.84 L611.40 648.59 L611.50 639.03 L611.60 627.96 L611.70 615.18 L611.80 600.54 L611.90 583.95 L612.00 565.56 L612.10 545.79 L612.20 525.58 L612.30 506.41 L612.40 490.31 L612.50 479.45 L612.60 475.61 L612.70 479.45 L612.80 490.30 L612.90 506.40 L613.00 525.56 L613.10 545.77 L613.20 565.53 L613.30 583.92 L613.40 600.50 L613.50 615.14 L613.60 627.91 L613.70 638.98 L613.80 648.53 L613.90 656.78 L614.00 663.90 L614.10 670.07 L614.20 675.42 L614.30 680.09 L614.40 684.17 L614.50 687.76 L614.60 690.92 L614.70 693.71 L614.80 696.19 L614.90 698.40 L615.00 700.38 L615.10 702.15 L615.20 703.75 L615.30 705.19 L615.40 706.49 L615.50 707.68 L615.60 708.75 L615.70 709.74 L615.80 710.64 L615.90 711.46 L616.00 712.22 L616.10 712.91 L616.20 713.56 L616.30 714.15 L616.40 714.70 L616.50 715.21 L616.60 715.69 L616.70 716.13 L616.80 716.54 L616.90 716.92 L617.00 717.28 L617.10 717.62 L617.20 717.93 L617.30 718.22 L617.40 718.50 L617.50 718.76 L617.60 719.00 L617.70 719.23 L617.80 719.45 L617.90 719.66 L618.00 719.85 L618.10 720.03 L618.20 720.21 L618.30 720.37 L618.40 720.52 L618.50 720.67 L618.60 720.81 L618.70 720.94 L618.80 721.07 L618.90 721.19 L619.00 721.30 L619.10 721.41 L619.20 721.51 L619.30 721.61 L619.40 721.70 L619.50 721.79 L619.60 721.87 L619.70 721.95 L619.80 722.03 L619.90 722.10 L620.00 722.17 L620.10 722.23 L620.20 722.29 L620.30 722.35 L620.40 722.41 L620.50 722.46 L620.60 722.52 L620.70 722.56 L620.80 722.61 L620.90 722.65 L621.00 722.70 L621.10 722.73 L621.20 722.77 L621.30 722.81 L621.40 722.84 L621.50 722.87 L621.60 722.90 L621.70 722.93 L621.80 722.95 L621.90 722.98 L622.00 723.00 L622.10 723.02 L622.20 723.04 L622.30 723.06 L622.40 723.08 L622.50 723.09 L622.60 723.11 L622.70 723.12 L622.80 723.13 L622.90 723.14 L623.00 723.14 L623.10 723.15 L623.20 723.16 L623.30 723.16 L623.40 723.16 L623.50 723.16 L623.60 723.16 L623.70 723.16 L623.80 723.16 L623.90 723.15 L624.00 723.15 L624.10 723.14 L624.20 723.13 L624.30 723.12 L624.40 723.11 L624.50 723.10 L624.60 723.08 L624.70 723.07 L624.80 723.05 L624.90 723.03 L625.00 723.01 L625.10 722.98 L625.20 722.96 L625.30 722.93 L625.40 722.91 L625.50 722.88 L625.60 722.84 L625.70 722.81 L625.80 722.77 L625.90 722.74 L626.00 722.69 L626.10 722.65 L626.20 722.61 L626.30 722.56 L626.40 722.51 L626.50 722.45 L626.60 722.40 L626.70 722.34 L626.80 722.27 L626.90 722.21 L627.00 722.14 L627.10 722.06 L627.20 721.99 L627.30 721.90 L627.40 721.82 L627.50 721.73 L627.60 721.63 L627.70 721.53 L627.80 721.42 L627.90 721.31 L628.00 721.19 L628.10 721.06 L628.20 720.92 L628.30 720.78 L628.40 720.63 L628.50 720.47 L628.60 720.30 L628.70 720.12 L628.80 719.92 L628.90 719.72 L629.00 719.50 L629.10 719.26 L629.20 719.01 L629.30 718.74 L629.40 718.46 L629.50 718.15 L629.60 717.82 L629.70 717.46 L629.80 717.08 L629.90 716.66 L630.00 716.21 L630.10 715.73 L630.20 715.20 L630.30 714.62 L630.40 713.99 L630.50 713.31 L630.60 712.55 L630.70 711.72 L630.80 710.81 L630.90 709.79 L631.00 708.67 L631.10 707.42 L631.20 706.02 L631.30 704.45 L631.40 702.69 L631.50 700.69 L631.60 698.42 L631.70 695.83 L631.80 692.86 L631.90 689.44 L632.00 685.48 L632.10 680.87 L632.20 675.47 L632.30 669.14 L632.40 661.67 L632.50 652.84 L632.60 642.39 L632.70 630.08 L632.80 615.66 L632.90 599.06 L633.00 580.46 L633.10 560.56 L633.20 540.81 L633.30 523.50 L633.40 511.44 L633.50 507.06 L633.60 511.34 L633.70 523.31 L633.80 540.52 L633.90 560.17 L634.00 579.97 L634.10 598.48 L634.20 614.98 L634.30 629.29 L634.40 641.50 L634.50 651.84 L634.60 660.56 L634.70 667.92 L634.80 674.14 L634.90 679.41 L635.00 683.90 L635.10 687.74 L635.20 691.03 L635.30 693.86 L635.40 696.31 L635.50 698.43 L635.60 700.27 L635.70 701.88 L635.80 703.28 L635.90 704.50 L636.00 705.56 L636.10 706.49 L636.20 707.29 L636.30 707.98 L636.40 708.58 L636.50 709.08 L636.60 709.51 L636.70 709.85 L636.80 710.13 L636.90 710.33 L637.00 710.47 L637.10 710.55 L637.20 710.56 L637.30 710.51 L637.40 710.40 L637.50 710.22 L637.60 709.97 L637.70 709.66 L637.80 709.26 L637.90 708.79 L638.00 708.22 L638.10 707.56 L638.20 706.80 L638.30 705.91 L638.40 704.89 L638.50 703.71 L638.60 702.36 L638.70 700.81 L638.80 699.03 L638.90 696.97 L639.00 694.60 L639.10 691.85 L639.20 688.65 L639.30 684.93 L639.40 680.56 L639.50 675.43 L639.60 669.38 L639.70 662.22 L639.80 653.73 L639.90 643.67 L640.00 631.78 L640.10 617.84 L640.20 601.77 L640.30 583.75 L640.40 564.46 L640.50 545.32 L640.60 528.56 L640.70 516.90 L640.80 512.74 L640.90 517.01 L641.00 528.78 L641.10 545.65 L641.20 564.91 L641.30 584.31 L641.40 602.44 L641.50 618.63 L641.60 632.68 L641.70 644.70 L641.80 654.88 L641.90 663.49 L642.00 670.78 L642.10 676.96 L642.20 682.23 L642.30 686.73 L642.40 690.60 L642.50 693.94 L642.60 696.84 L642.70 699.37 L642.80 701.59 L642.90 703.55 L643.00 705.28 L643.10 706.81 L643.20 708.18 L643.30 709.41 L643.40 710.51 L643.50 711.51 L643.60 712.41 L643.70 713.22 L643.80 713.97 L643.90 714.64 L644.00 715.27 L644.10 715.83 L644.20 716.36 L644.30 716.84 L644.40 717.29 L644.50 717.70 L644.60 718.08 L644.70 718.44 L644.80 718.77 L644.90 719.08 L645.00 719.37 L645.10 719.64 L645.20 719.89 L645.30 720.13 L645.40 720.35 L645.50 720.56 L645.60 720.76 L645.70 720.95 L645.80 721.12 L645.90 721.29 L646.00 721.45 L646.10 721.59 L646.20 721.74 L646.30 721.87 L646.40 722.00 L646.50 722.12 L646.60 722.24 L646.70 722.35 L646.80 722.45 L646.90 722.55 L647.00 722.65 L647.10 722.74 L647.20 722.83 L647.30 722.91 L647.40 722.99 L647.50 723.07 L647.60 723.14 L647.70 723.21 L647.80 723.28 L647.90 723.34 L648.00 723.41 L648.10 723.47 L648.20 723.52 L648.30 723.58 L648.40 723.63 L648.50 723.68 L648.60 723.73 L648.70 723.78 L648.80 723.83 L648.90 723.87 L649.00 723.92 L649.10 723.96 L649.20 724.00 L649.30 724.04 L649.40 724.07 L649.50 724.11 L649.60 724.14 L649.70 724.18 L649.80 724.21 L649.90 724.24 L650.00 724.27 L650.10 724.30 L650.20 724.33 L650.30 724.36 L650.40 724.39 L650.50 724.41 L650.60 724.44 L650.70 724.46 L650.80 724.49 L650.90 724.51 L651.00 724.53 L651.10 724.55 L651.20 724.57 L651.30 724.59 L651.40 724.61 L651.50 724.63 L651.60 724.65 L651.70 724.67 L651.80 724.69 L651.90 724.70 L652.00 724.72 L652.10 724.73 L652.20 724.75 L652.30 724.76 L652.40 724.78 L652.50 724.79 L652.60 724.81 L652.70 724.82 L652.80 724.83 L653.80 724.93 L654.80 724.99 L655.80 725.02 L655.90 725.02 L656.00 725.02 L656.10 725.02 L656.20 725.02 L656.30 725.02 L656.40 725.02 L656.50 725.02 L656.60 725.02 L656.70 725.01 L656.80 725.01 L656.90 725.01 L657.00 725.00 L657.10 725.00 L657.20 725.00 L657.30 724.99 L657.40 724.98 L657.50 724.98 L657.60 724.97 L657.70 724.96 L657.80 724.96 L657.90 724.95 L658.00 724.94 L658.10 724.93 L658.20 724.92 L658.30 724.91 L658.40 724.90 L658.50 724.88 L658.60 724.87 L658.70 724.86 L658.80 724.84 L658.90 724.83 L659.00 724.81 L659.10 724.79 L659.20 724.77 L659.30 724.75 L659.40 724.73 L659.50 724.71 L659.60 724.69 L659.70 724.66 L659.80 724.64 L659.90 724.61 L660.00 724.58 L660.10 724.55 L660.20 724.52 L660.30 724.49 L660.40 724.45 L660.50 724.42 L660.60 724.38 L660.70 724.34 L660.80 724.30 L660.90 724.25 L661.00 724.20 L661.10 724.15 L661.20 724.10 L661.30 724.04 L661.40 723.98 L661.50 723.92 L661.60 723.85 L661.70 723.78 L661.80 723.71 L661.90 723.63 L662.00 723.54 L662.10 723.45 L662.20 723.36 L662.30 723.26 L662.40 723.15 L662.50 723.03 L662.60 722.91 L662.70 722.77 L662.80 722.63 L662.90 722.48 L663.00 722.31 L663.10 722.14 L663.20 721.95 L663.30 721.74 L663.40 721.52 L663.50 721.28 L663.60 721.02 L663.70 720.74 L663.80 720.43 L663.90 720.09 L664.00 719.72 L664.10 719.32 L664.20 718.87 L664.30 718.38 L664.40 717.84 L664.50 717.24 L664.60 716.58 L664.70 715.83 L664.80 715.00 L664.90 714.07 L665.00 713.02 L665.10 711.83 L665.20 710.48 L665.30 708.95 L665.40 707.19 L665.50 705.17 L665.60 702.85 L665.70 700.16 L665.80 697.06 L665.90 693.46 L666.00 689.29 L666.10 684.48 L666.20 678.96 L666.30 672.71 L666.40 665.78 L666.50 658.34 L666.60 650.72 L666.70 643.50 L666.80 637.43 L666.90 633.35 L667.00 631.90 L667.10 633.35 L667.20 637.45 L667.30 643.52 L667.40 650.75 L667.50 658.37 L667.60 665.82 L667.70 672.76 L667.80 679.01 L667.90 684.53 L668.00 689.35 L668.10 693.52 L668.20 697.13 L668.30 700.24 L668.40 702.93 L668.50 705.26 L668.60 707.28 L668.70 709.04 L668.80 710.59 L668.90 711.94 L669.00 713.14 L669.10 714.19 L669.20 715.13 L669.30 715.97 L669.40 716.72 L669.50 717.39 L669.60 718.00 L669.70 718.54 L669.80 719.04 L669.90 719.49 L670.00 719.90 L670.10 720.27 L670.20 720.62 L670.30 720.93 L670.40 721.22 L670.50 721.49 L670.60 721.73 L670.70 721.96 L670.80 722.17 L670.90 722.37 L671.00 722.55 L671.10 722.72 L671.20 722.88 L671.30 723.03 L671.40 723.17 L671.50 723.30 L671.60 723.42 L671.70 723.54 L671.80 723.65 L671.90 723.75 L672.00 723.85 L672.10 723.94 L672.20 724.02 L672.30 724.11 L672.40 724.18 L672.50 724.26 L672.60 724.33 L672.70 724.39 L672.80 724.46 L672.90 724.52 L673.00 724.57 L673.10 724.63 L673.20 724.68 L673.30 724.73 L673.40 724.78 L673.50 724.82 L673.60 724.87 L673.70 724.91 L673.80 724.95 L673.90 724.99 L674.00 725.02 L674.10 725.06 L674.20 725.09 L674.30 725.13 L674.40 725.16 L674.50 725.19 L674.60 725.22 L674.70 725.25 L674.80 725.27 L674.90 725.30 L675.00 725.33 L675.10 725.35 L675.20 725.37 L675.30 725.40 L675.40 725.42 L675.50 725.44 L675.60 725.46 L675.70 725.48 L675.80 725.50 L675.90 725.52 L676.00 725.54 L676.10 725.56 L676.20 725.58 L676.30 725.59 L676.40 725.61 L676.50 725.62 L676.60 725.64 L676.70 725.65 L676.80 725.67 L676.90 725.68 L677.00 725.70 L677.10 725.71 L677.20 725.72 L677.30 725.74 L677.40 725.75 L677.50 725.76 L677.60 725.77 L677.70 725.79 L677.80 725.80 L677.90 725.81 L678.00 725.82 L678.10 725.83 L678.20 725.84 L678.30 725.85 L678.40 725.86 L678.50 725.87 L678.60 725.88 L678.70 725.89 L678.80 725.90 L678.90 725.91 L679.00 725.91 L680.00 725.99 L681.00 726.12 L682.00 726.23 L683.00 726.34 L684.00 726.44 L685.00 726.54 L686.00 726.63 L687.00 726.73 L688.00 726.81 L689.00 726.90 L690.00 726.98 L691.00 727.00 L692.00 727.01 L693.00 727.02 L694.00 727.03 L695.00 727.04 L696.00 727.04 L697.00 727.05 L698.00 727.06 L699.00 727.06 L700.00 727.07 L701.00 727.08 L702.00 727.08 L703.00 727.09 L704.00 727.09 L705.00 727.09 L706.00 727.10 L707.00 727.10 L708.00 727.10 L709.00 726.96 L710.00 726.81 L711.00 726.66 L712.00 726.52 L713.00 726.37 L714.00 726.22 L715.00 726.18 L716.00 726.15 L717.00 726.11 L718.00 726.07 L719.00 726.03 L720.00 726.19 L721.00 726.35 L722.00 726.51 L723.00 726.67 L724.00 726.83 L725.00 726.99 L726.00 727.14 L727.00 727.14 L728.00 727.15 L729.00 727.15 L730.00 727.15 L731.00 727.15 L732.00 727.15 L733.00 727.15 L734.00 727.15 L735.00 727.15 L736.00 727.16 L737.00 727.16 L738.00 727.16 L739.00 727.16 L740.00 727.16 L741.00 727.16 L742.00 727.16 L743.00 727.16 L744.00 727.16 L745.00 727.16 L746.00 727.16 L747.00 727.16 L748.00 727.16 L749.00 727.17 L750.00 727.17 L751.00 727.17 L752.00 727.17 L753.00 727.17 L754.00 727.17 L755.00 727.17 L756.00 727.17 L757.00 727.17 L758.00 727.17 L759.00 727.17 L760.00 727.17 L761.00 727.17 L762.00 727.17 L763.00 727.17 L764.00 727.17 L765.00 727.17 L766.00 727.17 L767.00 727.17 L768.00 727.18 L769.00 727.18 L770.00 727.18 L771.00 727.18 L772.00 727.18 L773.00 727.18 L774.00 727.18 L775.00 727.18 L776.00 727.18 L777.00 727.18 L778.00 727.18 L779.00 727.18 L780.00 727.18 L781.00 727.18 L782.00 727.18 L783.00 727.18 L784.00 727.18 L785.00 727.18 L786.00 727.18 L787.00 727.18 L788.00 727.18 L789.00 727.18 L790.00 727.18 L791.00 727.18 L792.00 727.18 L793.00 727.18 L794.00 727.18 L795.00 727.18 L796.00 727.18 L797.00 727.18 L798.00 727.18 L799.00 727.18 L800.00 727.18 L801.00 727.18 L802.00 727.18 L803.00 727.18 L804.00 727.18 L805.00 727.19 L806.00 727.19 L807.00 727.19 L808.00 727.19 L809.00 727.19 L810.00 727.19 L811.00 727.19 L812.00 727.19 L813.00 727.19 L814.00 727.19 L815.00 727.19 L816.00 727.19 L817.00 727.19 L818.00 727.19 L819.00 727.19 L820.00 727.19 L821.00 727.19 L822.00 727.19 L823.00 727.19 L824.00 727.19 L825.00 727.19 L826.00 727.19 L827.00 727.19 L828.00 727.19 L829.00 727.19 L830.00 727.19 L831.00 727.19 L832.00 727.19 L833.00 727.19 L834.00 727.19 L835.00 727.19 L836.00 727.19 L837.00 727.19 L838.00 727.19 L839.00 727.19 L840.00 727.19 L841.00 727.19 L842.00 727.19 L843.00 727.19 L844.00 727.19 L845.00 727.19 L846.00 727.19 L847.00 727.19 L848.00 727.19 L849.00 727.19 L850.00 727.19 L851.00 727.19 L852.00 727.19 L853.00 727.19 L854.00 727.19 L855.00 727.19 L856.00 727.19 L857.00 727.19 L858.00 727.19 L859.00 727.19 L860.00 727.19 L861.00 727.19 L862.00 727.19 L863.00 727.19 L864.00 727.19 L865.00 727.19 L866.00 727.19 L867.00 727.19 L868.00 727.19 L869.00 727.19 L870.00 727.19 L871.00 727.19 L872.00 727.19 L873.00 727.19 L874.00 727.19 L875.00 727.19 L876.00 727.19 L877.00 727.19 L878.00 727.19 L879.00 727.19 L880.00 727.19 L881.00 727.19 L882.00 727.19 L883.00 727.19 L884.00 727.19 L885.00 727.19 L886.00 727.19 L887.00 727.19 L888.00 727.19 L889.00 727.19 L890.00 727.19 L891.00 727.19 L892.00 727.19 L893.00 727.19 L894.00 727.19 L895.00 727.19 L896.00 727.19 L897.00 727.19 L898.00 727.19 L899.00 727.19 L900.00 727.19 L901.00 727.19 L902.00 727.19 L903.00 727.19 L904.00 727.19 L905.00 727.19 L906.00 726.98 L907.00 726.77 L908.00 726.56 L909.00 726.34 L910.00 726.26 L911.00 726.50 L912.00 726.73 L913.00 726.96 L914.00 727.19 L915.00 727.21 L916.00 727.22 L917.00 727.24 L918.00 727.25 L919.00 727.27" stroke="#000" stroke-width="6.0" fill="none" stroke-linejoin="round" stroke-linecap="butt" clip-path="url(#cb)"/>
<path d="M150.0 464.4 V728.0 H921.0 M920.0 728.0 v-9" fill="none" stroke="#000" stroke-width="2"/>
<text transform="translate(140.5 737.5) scale(0.93 1)" text-anchor="end" class="t">0</text>
<text transform="translate(140.5 671.9) scale(0.93 1)" text-anchor="end" class="t">0.01</text>
<text transform="translate(140.5 606.2) scale(0.93 1)" text-anchor="end" class="t">0.02</text>
<text transform="translate(140.5 540.5) scale(0.93 1)" text-anchor="end" class="t">0.03</text>
<text transform="translate(140.5 474.9) scale(0.93 1)" text-anchor="end" class="t">0.04</text>
<text transform="translate(150.3 756.8) scale(0.93 1)" text-anchor="middle" class="t">0</text>
<text transform="translate(227.3 756.8) scale(0.93 1)" text-anchor="middle" class="t">0.2</text>
<text transform="translate(304.3 756.8) scale(0.93 1)" text-anchor="middle" class="t">0.4</text>
<text transform="translate(381.3 756.8) scale(0.93 1)" text-anchor="middle" class="t">0.6</text>
<text transform="translate(458.3 756.8) scale(0.93 1)" text-anchor="middle" class="t">0.8</text>
<text transform="translate(535.3 756.8) scale(0.93 1)" text-anchor="middle" class="t">1.0</text>
<text transform="translate(612.3 756.8) scale(0.93 1)" text-anchor="middle" class="t">1.2</text>
<text transform="translate(689.3 756.8) scale(0.93 1)" text-anchor="middle" class="t">1.4</text>
<text transform="translate(766.3 756.8) scale(0.93 1)" text-anchor="middle" class="t">1.6</text>
<text transform="translate(843.3 756.8) scale(0.93 1)" text-anchor="middle" class="t">1.8</text>
<text transform="translate(920.3 756.8) scale(0.93 1)" text-anchor="middle" class="t">2.0</text>
<text transform="translate(547.5 801) scale(1.025 1)" text-anchor="middle" class="ti">Frequency [Hz]</text>
<text transform="translate(538.7 845.5) scale(1.09 1)" text-anchor="middle" class="tb">(b)</text>
<text transform="translate(29.7 596.7) rotate(-90)" text-anchor="middle" class="ti">Average of</text>
<text transform="translate(72.3 596.7) rotate(-90)" text-anchor="middle" class="ti">normalized PSD</text>
</svg></body></html>
